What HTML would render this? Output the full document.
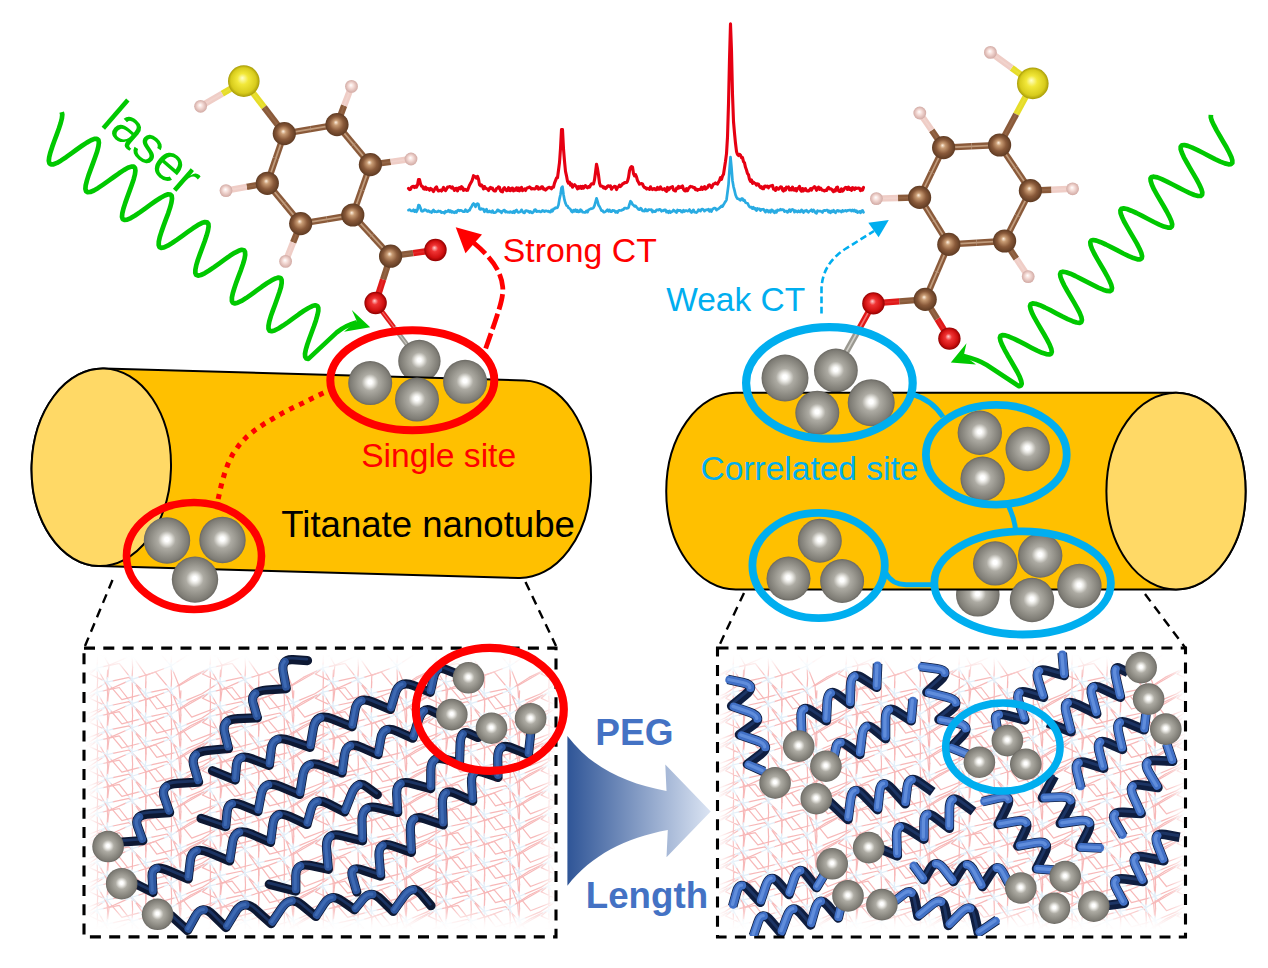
<!DOCTYPE html>
<html><head><meta charset="utf-8"><title>fig</title>
<style>html,body{margin:0;padding:0;background:#fff}svg{display:block}text{font-family:"Liberation Sans",sans-serif}</style>
</head><body>
<svg width="1268" height="968" viewBox="0 0 1268 968">
<defs>
<radialGradient id="gTi" cx="50%" cy="50%" r="50%" fx="49.5%" fy="47.5%">
<stop offset="0" stop-color="#fff"/><stop offset=".09" stop-color="#fff"/><stop offset=".2" stop-color="#e6e5e0"/>
<stop offset=".38" stop-color="#adaba3"/><stop offset=".7" stop-color="#908e86"/><stop offset=".9" stop-color="#7e7c75"/><stop offset="1" stop-color="#6a6862"/>
</radialGradient>
<radialGradient id="gC" cx="50%" cy="50%" r="50%" fx="45%" fy="40%">
<stop offset="0" stop-color="#fff1e0"/><stop offset=".22" stop-color="#c99c74"/><stop offset=".6" stop-color="#8a5a3a"/><stop offset="1" stop-color="#5e3a22"/>
</radialGradient>
<radialGradient id="gH" cx="50%" cy="50%" r="50%" fx="45%" fy="40%">
<stop offset="0" stop-color="#fff"/><stop offset=".4" stop-color="#f5dcd7"/><stop offset="1" stop-color="#d2aaa4"/>
</radialGradient>
<radialGradient id="gS" cx="50%" cy="50%" r="50%" fx="45%" fy="40%">
<stop offset="0" stop-color="#ffffc8"/><stop offset=".35" stop-color="#f2e83a"/><stop offset=".8" stop-color="#d8cc1c"/><stop offset="1" stop-color="#a89c08"/>
</radialGradient>
<radialGradient id="gO" cx="50%" cy="50%" r="50%" fx="45%" fy="40%">
<stop offset="0" stop-color="#ffd0d0"/><stop offset=".3" stop-color="#f03434"/><stop offset=".75" stop-color="#d01010"/><stop offset="1" stop-color="#900000"/>
</radialGradient>
<linearGradient id="gArrow" x1="0" y1="0" x2="1" y2="0">
<stop offset="0" stop-color="#2f5597"/><stop offset="1" stop-color="#dbe4f3"/>
</linearGradient>
</defs>
<rect width="1268" height="968" fill="#fff"/>
<path d="M61.7 112.1 L62.3 114.6 L61.9 118.2 L60.7 123 L58.9 128.5 L56.7 134.6 L54.4 140.8 L52.2 146.9 L50.4 152.4 L49.2 157.2 L48.8 160.8 L49.4 163.3 L50.9 164.4 L53.5 164.3 L57 162.9 L61.2 160.4 L66.1 157.2 L71.4 153.4 L76.7 149.5 L82 145.8 L86.8 142.6 L91 140.2 L94.4 138.9 L96.9 138.8 L98.4 140 L98.9 142.6 L98.4 146.4 L97.2 151.2 L95.3 156.8 L93.1 162.9 L90.8 169.1 L88.6 175.1 L86.9 180.6 L85.7 185.3 L85.4 188.9 L86.1 191.2 L87.7 192.2 L90.3 192 L93.9 190.5 L98.2 187.9 L103.1 184.6 L108.4 180.9 L113.8 177 L119 173.3 L123.8 170.1 L127.9 167.8 L131.3 166.6 L133.7 166.6 L135 168 L135.4 170.6 L134.9 174.5 L133.6 179.4 L131.7 185 L129.5 191.1 L127.2 197.4 L125.1 203.4 L123.4 208.8 L122.3 213.4 L122 216.9 L122.7 219.1 L124.5 220 L127.2 219.7 L130.8 218.1 L135.1 215.5 L140.1 212.1 L145.4 208.3 L150.8 204.4 L156 200.8 L160.7 197.7 L164.8 195.5 L168.1 194.3 L170.4 194.5 L171.7 195.9 L172 198.7 L171.4 202.6 L170.1 207.6 L168.2 213.3 L165.9 219.4 L163.6 225.6 L161.5 231.6 L159.8 237 L158.8 241.5 L158.7 244.9 L159.4 247 L161.2 247.8 L164 247.4 L167.7 245.7 L172.1 243 L177.1 239.6 L182.4 235.8 L187.8 231.9 L192.9 228.3 L197.7 225.2 L201.7 223.1 L204.9 222.1 L207.1 222.3 L208.4 223.9 L208.6 226.7 L207.9 230.8 L206.5 235.8 L204.6 241.5 L202.3 247.7 L200 253.9 L197.9 259.8 L196.3 265.1 L195.4 269.6 L195.3 272.9 L196.1 274.9 L198 275.6 L200.9 275 L204.6 273.3 L209.1 270.5 L214.1 267.1 L219.4 263.3 L224.8 259.4 L229.9 255.8 L234.6 252.8 L238.6 250.8 L241.7 249.8 L243.9 250.2 L245 251.8 L245.2 254.8 L244.5 258.9 L243 264 L241 269.8 L238.7 275.9 L236.4 282.1 L234.4 288 L232.8 293.3 L231.9 297.6 L231.9 300.9 L232.8 302.8 L234.8 303.4 L237.7 302.7 L241.5 300.9 L246.1 298.1 L251.1 294.6 L256.5 290.7 L261.8 286.8 L266.9 283.3 L271.5 280.4 L275.5 278.4 L278.5 277.6 L280.6 278 L281.6 279.8 L281.7 282.8 L281 287 L279.4 292.2 L277.4 298 L275.2 304.2 L272.9 310.4 L270.8 316.3 L269.3 321.5 L268.5 325.7 L268.5 328.8 L269.6 330.7 L271.6 331.2 L274.6 330.4 L278.5 328.5 L283 325.6 L288.1 322.1 L293.5 318.2 L298.8 314.3 L303.9 310.8 L308.5 308 L312.3 306.1 L315.3 305.3 L317.3 305.9 L318.3 307.8 L318.3 310.9 L317.4 315.2 L315.9 320.4 L313.9 326.3 L311.6 332.5 L309.3 338.7 L307.3 344.5 L305.8 349.6 L305 353.8 L305.2 356.8 L306.3 358.5 L308.4 358.9 L336.8 332.4 Q345 325.5 357 322.2" fill="none" stroke="#00c800" stroke-width="4.7" stroke-linecap="butt" stroke-linejoin="round"/>
<path d="M370.2 327.3 L351.8 310 L357 321.5 L352 325 L344 331.8 Z" fill="#00c800"/>
<path d="M1210.9 114.8 L1210.8 117.3 L1211.8 120.8 L1213.9 125.2 L1216.6 130.4 L1219.9 136 L1223.2 141.7 L1226.5 147.3 L1229.2 152.5 L1231.3 156.9 L1232.3 160.4 L1232.3 162.9 L1231 164.2 L1228.5 164.3 L1224.9 163.4 L1220.3 161.6 L1215 159.1 L1209.2 156.1 L1203.3 153 L1197.6 150.1 L1192.3 147.6 L1187.8 145.9 L1184.3 145 L1181.9 145.3 L1180.7 146.7 L1180.7 149.2 L1181.9 152.8 L1183.9 157.3 L1186.8 162.5 L1190 168.1 L1193.4 173.9 L1196.6 179.4 L1199.3 184.5 L1201.3 188.9 L1202.3 192.4 L1202.1 194.7 L1200.7 195.9 L1198.1 196 L1194.4 195 L1189.8 193.1 L1184.4 190.5 L1178.7 187.6 L1172.7 184.5 L1167 181.6 L1161.8 179.1 L1157.4 177.4 L1153.9 176.7 L1151.6 177 L1150.5 178.5 L1150.7 181.1 L1151.9 184.8 L1154 189.4 L1156.9 194.6 L1160.2 200.3 L1163.6 206 L1166.7 211.5 L1169.4 216.6 L1171.3 220.9 L1172.2 224.3 L1171.9 226.5 L1170.4 227.7 L1167.8 227.6 L1164 226.6 L1159.3 224.6 L1153.9 222 L1148.1 219 L1142.2 215.9 L1136.5 213 L1131.3 210.7 L1127 209 L1123.6 208.4 L1121.4 208.8 L1120.4 210.4 L1120.6 213.1 L1121.9 216.8 L1124.1 221.5 L1127 226.7 L1130.3 232.4 L1133.7 238.1 L1136.9 243.6 L1139.5 248.7 L1141.3 252.9 L1142.1 256.2 L1141.7 258.4 L1140.2 259.4 L1137.4 259.3 L1133.5 258.1 L1128.8 256.1 L1123.3 253.5 L1117.5 250.4 L1111.6 247.4 L1105.9 244.5 L1100.8 242.2 L1096.5 240.6 L1093.3 240 L1091.2 240.5 L1090.3 242.2 L1090.6 245 L1091.9 248.8 L1094.2 253.5 L1097.2 258.9 L1100.5 264.5 L1103.9 270.3 L1107 275.8 L1109.5 280.7 L1111.3 284.9 L1112 288.1 L1111.5 290.2 L1109.9 291.1 L1107 290.9 L1103.1 289.7 L1098.2 287.6 L1092.8 284.9 L1086.9 281.9 L1081 278.8 L1075.4 276 L1070.4 273.7 L1066.1 272.2 L1063 271.7 L1060.9 272.3 L1060.1 274.1 L1060.5 277 L1062 280.9 L1064.3 285.6 L1067.3 291 L1070.7 296.7 L1074 302.4 L1077.1 307.9 L1079.6 312.7 L1081.3 316.8 L1081.9 320 L1081.3 322 L1079.6 322.8 L1076.6 322.5 L1072.6 321.2 L1067.7 319.1 L1062.2 316.4 L1056.3 313.3 L1050.4 310.2 L1044.9 307.5 L1039.9 305.2 L1035.7 303.8 L1032.6 303.4 L1030.7 304.1 L1030 306 L1030.5 308.9 L1032 312.9 L1034.4 317.7 L1037.5 323.1 L1040.8 328.8 L1044.2 334.5 L1047.2 339.9 L1049.7 344.8 L1051.3 348.8 L1051.8 351.8 L1051.1 353.8 L1049.3 354.5 L1046.2 354.1 L1042.1 352.8 L1037.2 350.6 L1031.6 347.8 L1025.7 344.7 L1019.9 341.7 L1014.3 338.9 L1009.4 336.8 L1005.3 335.4 L1002.3 335.1 L1000.5 335.9 L999.9 337.8 L1000.5 340.9 L1002.1 344.9 L1004.6 349.8 L1007.6 355.2 L1011 361 L1014.3 366.7 L1017.3 372 L1019.7 376.8 L1021.2 380.8 L1021.7 383.7 L1020.9 385.5 L1019 386.2 L986.8 365 Q978 359.5 963.5 356" fill="none" stroke="#00c800" stroke-width="4.7" stroke-linecap="butt" stroke-linejoin="round"/>
<path d="M950.8 362.6 L966.5 343.2 L963.8 355.2 L968 358.5 L976 364.6 Z" fill="#00c800"/>
<text transform="translate(99,124.4) rotate(41)" font-size="51.5" fill="#00c800">laser</text>
<path d="M408.5 188.4 L409.5 189.6 L410.5 189.4 L411.5 187.2 L412.5 186.4 L413.5 186.2 L414.5 187.5 L415.5 186.2 L416.5 187.2 L417.5 185 L418.5 179.5 L419.5 179.6 L420.5 183.8 L421.5 186.2 L422.5 186.5 L423.5 188.7 L424.5 189.1 L425.5 187.1 L426.5 189.3 L427.5 188.4 L428.5 188.7 L429.5 190.3 L430.5 188.4 L431.5 189.1 L432.5 190.2 L433.5 191.6 L434.5 189.6 L435.5 187.8 L436.5 186.8 L437.5 189.7 L438.5 191 L439.5 190.6 L440.5 190 L441.5 191 L442.5 189.7 L443.5 187.4 L444.5 189.3 L445.5 190.7 L446.5 189.2 L447.5 187.1 L448.5 187.1 L449.5 186.6 L450.5 186.8 L451.5 188 L452.5 187 L453.5 188.7 L454.5 190.4 L455.5 188.5 L456.5 188.3 L457.5 190.9 L458.5 188.2 L459.5 187.6 L460.5 188.9 L461.5 186.7 L462.5 187.6 L463.5 190.4 L464.5 189.2 L465.5 189.5 L466.5 190.4 L467.5 190.3 L468.5 187.8 L469.5 185.2 L470.5 183.4 L471.5 181.8 L472.5 179.4 L473.5 175.7 L474.5 176.5 L475.5 177 L476.5 178.2 L477.5 176.3 L478.5 179.1 L479.5 184.7 L480.5 185.8 L481.5 185 L482.5 186.3 L483.5 189 L484.5 186.5 L485.5 188.1 L486.5 188.7 L487.5 188.9 L488.5 190.5 L489.5 188.3 L490.5 187.3 L491.5 188.6 L492.5 188.2 L493.5 190.2 L494.5 190.9 L495.5 191 L496.5 188.5 L497.5 188.3 L498.5 186.8 L499.5 187.4 L500.5 190.6 L501.5 191.5 L502.5 191.9 L503.5 188.7 L504.5 187.7 L505.5 189.3 L506.5 190.7 L507.5 190.3 L508.5 187.7 L509.5 190.5 L510.5 190.7 L511.5 188.2 L512.5 188.1 L513.5 190.9 L514.5 189.2 L515.5 190.2 L516.5 187.8 L517.5 190.5 L518.5 188 L519.5 190.9 L520.5 189 L521.5 187.4 L522.5 190.7 L523.5 189.7 L524.5 189 L525.5 190.5 L526.5 188.4 L527.5 187.7 L528.5 187.6 L529.5 186.9 L530.5 187.7 L531.5 189 L532.5 188.6 L533.5 188.8 L534.5 189 L535.5 188.6 L536.5 186.6 L537.5 186.7 L538.5 189.1 L539.5 188 L540.5 188.7 L541.5 186.9 L542.5 186.9 L543.5 189.1 L544.5 188.8 L545.5 190.1 L546.5 189.1 L547.5 188.2 L548.5 187.6 L549.5 187.3 L550.5 187.9 L551.5 188.8 L552.5 187 L553.5 187.1 L554.5 183.2 L555.5 180.7 L556.5 178.1 L557.5 177.8 L558.5 170.3 L559.5 162.5 L560.5 148.7 L561.5 129.6 L562.5 129.6 L563.5 148.8 L564.5 161.2 L565.5 171.4 L566.5 175.8 L567.5 181.2 L568.5 183.2 L569.5 182.2 L570.5 185.2 L571.5 184 L572.5 187.2 L573.5 185.4 L574.5 184.7 L575.5 185.7 L576.5 186.8 L577.5 188.9 L578.5 186.7 L579.5 188 L580.5 186.3 L581.5 188.4 L582.5 186.3 L583.5 188.2 L584.5 186.3 L585.5 185.6 L586.5 187 L587.5 187.8 L588.5 186.6 L589.5 187.2 L590.5 185.2 L591.5 183.8 L592.5 183.7 L593.5 184 L594.5 179.9 L595.5 172.5 L596.5 164.2 L597.5 168.7 L598.5 175 L599.5 183 L600.5 186.1 L601.5 186.3 L602.5 186.4 L603.5 187.9 L604.5 187.1 L605.5 188.6 L606.5 187.8 L607.5 186.1 L608.5 185.7 L609.5 186.4 L610.5 185.9 L611.5 189.2 L612.5 187.6 L613.5 187.1 L614.5 186.3 L615.5 186.5 L616.5 189.6 L617.5 187.3 L618.5 186.8 L619.5 185.1 L620.5 186.5 L621.5 185.5 L622.5 184 L623.5 183.5 L624.5 182.6 L625.5 182.6 L626.5 182.5 L627.5 181.2 L628.5 177.5 L629.5 170.7 L630.5 167.7 L631.5 166.5 L632.5 167.1 L633.5 173.6 L634.5 175.9 L635.5 174.6 L636.5 176.9 L637.5 180.6 L638.5 182.2 L639.5 184.2 L640.5 183.7 L641.5 183.6 L642.5 183.9 L643.5 186.3 L644.5 187.6 L645.5 187.5 L646.5 189 L647.5 188.3 L648.5 188.9 L649.5 189.4 L650.5 186.8 L651.5 188.9 L652.5 189.6 L653.5 188.8 L654.5 188.5 L655.5 189.7 L656.5 189.6 L657.5 187.4 L658.5 189.3 L659.5 189.2 L660.5 186.9 L661.5 188.9 L662.5 189.6 L663.5 189.1 L664.5 188.7 L665.5 190.5 L666.5 191.4 L667.5 187.4 L668.5 189.8 L669.5 188.8 L670.5 187.5 L671.5 187.1 L672.5 186.7 L673.5 190.1 L674.5 190.5 L675.5 191 L676.5 188.2 L677.5 188.5 L678.5 186.4 L679.5 187.8 L680.5 186.8 L681.5 187.3 L682.5 186 L683.5 189.3 L684.5 190.7 L685.5 190.9 L686.5 188.7 L687.5 190.7 L688.5 188.5 L689.5 187.4 L690.5 186.3 L691.5 186.8 L692.5 186.7 L693.5 187.8 L694.5 187.5 L695.5 189.6 L696.5 189.1 L697.5 190.3 L698.5 189.6 L699.5 189.4 L700.5 189.4 L701.5 187.2 L702.5 189.3 L703.5 187.9 L704.5 186.6 L705.5 189.1 L706.5 188.3 L707.5 187.5 L708.5 185.4 L709.5 184.8 L710.5 185.7 L711.5 187.6 L712.5 185.9 L713.5 184 L714.5 183.8 L715.5 182.9 L716.5 183.6 L717.5 184.1 L718.5 182.1 L719.5 180.5 L720.5 177.6 L721.5 179.4 L722.5 176.1 L723.5 174.3 L724.5 167.8 L725.5 161.3 L726.5 153.6 L727.5 137.1 L728.5 103.9 L729.5 59 L730.5 23.8 L731.5 50.8 L732.5 94.4 L733.5 121.5 L734.5 133.1 L735.5 143.3 L736.5 151.4 L737.5 154.5 L738.5 155.5 L739.5 154.3 L740.5 155.1 L741.5 157.8 L742.5 157.6 L743.5 161.7 L744.5 162.8 L745.5 167.3 L746.5 170 L747.5 173.6 L748.5 174.8 L749.5 179.3 L750.5 181.3 L751.5 179.9 L752.5 183.4 L753.5 182.2 L754.5 183.1 L755.5 183.5 L756.5 185.1 L757.5 183.9 L758.5 184.3 L759.5 186.2 L760.5 187.5 L761.5 186.7 L762.5 188.7 L763.5 188.8 L764.5 186.3 L765.5 186 L766.5 186.9 L767.5 186.1 L768.5 187.8 L769.5 186.2 L770.5 186 L771.5 185.7 L772.5 185.4 L773.5 189 L774.5 189.4 L775.5 190.4 L776.5 187.5 L777.5 189.1 L778.5 189.3 L779.5 188.1 L780.5 186.9 L781.5 187 L782.5 190.1 L783.5 191 L784.5 188.7 L785.5 190.1 L786.5 187.1 L787.5 187.6 L788.5 187 L789.5 190 L790.5 188.7 L791.5 189.9 L792.5 187.1 L793.5 190.1 L794.5 190.3 L795.5 188.6 L796.5 190.8 L797.5 188.4 L798.5 188 L799.5 186.4 L800.5 190 L801.5 191.2 L802.5 188.5 L803.5 190.8 L804.5 189 L805.5 188.7 L806.5 190.8 L807.5 190.9 L808.5 191 L809.5 190.1 L810.5 188.6 L811.5 190.2 L812.5 188.1 L813.5 187.7 L814.5 186.6 L815.5 187.6 L816.5 190.3 L817.5 188.4 L818.5 187.1 L819.5 189.4 L820.5 188.1 L821.5 189.3 L822.5 190.3 L823.5 190.2 L824.5 191 L825.5 190 L826.5 190.5 L827.5 188.4 L828.5 187.4 L829.5 189 L830.5 188.7 L831.5 189.1 L832.5 190.5 L833.5 191.7 L834.5 189.9 L835.5 190.9 L836.5 187.7 L837.5 187.1 L838.5 190.7 L839.5 191.5 L840.5 191.5 L841.5 188.9 L842.5 191.1 L843.5 190.2 L844.5 188.3 L845.5 187.4 L846.5 187.6 L847.5 189.4 L848.5 187.1 L849.5 189.4 L850.5 188.5 L851.5 190.3 L852.5 187.6 L853.5 188.3 L854.5 189.6 L855.5 187.9 L856.5 188.4 L857.5 188.2 L858.5 188.1 L859.5 188.3 L860.5 190.6 L861.5 189.1 L862.5 190.2 L863.5 187.4" fill="none" stroke="#e60012" stroke-width="3.1" stroke-linejoin="round" stroke-linecap="round"/>
<path d="M408.5 210.2 L409.5 209.6 L410.5 210.4 L411.5 211 L412.5 210.9 L413.5 209.8 L414.5 211.7 L415.5 210.2 L416.5 211.8 L417.5 209.6 L418.5 205.1 L419.5 205.5 L420.5 208 L421.5 211.1 L422.5 211.3 L423.5 210.8 L424.5 209.7 L425.5 209.8 L426.5 210.6 L427.5 211.4 L428.5 210.7 L429.5 211.8 L430.5 211.7 L431.5 212.6 L432.5 211 L433.5 210 L434.5 211.8 L435.5 211.4 L436.5 211.9 L437.5 211.7 L438.5 210.9 L439.5 211.5 L440.5 211.2 L441.5 212.7 L442.5 212.3 L443.5 212.3 L444.5 213.2 L445.5 211.2 L446.5 211.8 L447.5 211.3 L448.5 210.1 L449.5 211.8 L450.5 210.6 L451.5 212.3 L452.5 211.4 L453.5 212.5 L454.5 212.8 L455.5 211.5 L456.5 212.5 L457.5 210.5 L458.5 210.1 L459.5 210.8 L460.5 210.3 L461.5 210.6 L462.5 211.2 L463.5 211.7 L464.5 211.6 L465.5 209.7 L466.5 211.3 L467.5 211.7 L468.5 210.4 L469.5 210.4 L470.5 208.1 L471.5 206.8 L472.5 204.7 L473.5 203.5 L474.5 204.6 L475.5 206.8 L476.5 204.2 L477.5 203.6 L478.5 204.4 L479.5 209 L480.5 209.4 L481.5 208.7 L482.5 209.2 L483.5 209.2 L484.5 211.8 L485.5 210 L486.5 209.2 L487.5 212 L488.5 212 L489.5 211 L490.5 212 L491.5 212.3 L492.5 210.6 L493.5 212.6 L494.5 212.6 L495.5 212.4 L496.5 211.7 L497.5 209.9 L498.5 210.1 L499.5 211.5 L500.5 211.2 L501.5 212.8 L502.5 211.3 L503.5 210.4 L504.5 210.1 L505.5 212.2 L506.5 211.5 L507.5 212.3 L508.5 212.1 L509.5 212.4 L510.5 211.6 L511.5 212.3 L512.5 212.6 L513.5 211.3 L514.5 212.7 L515.5 210.7 L516.5 210 L517.5 211.9 L518.5 212.5 L519.5 212.1 L520.5 211.7 L521.5 209.8 L522.5 211.3 L523.5 212.7 L524.5 212.9 L525.5 210.8 L526.5 210.5 L527.5 211.3 L528.5 211 L529.5 212.5 L530.5 211.5 L531.5 212.6 L532.5 212.9 L533.5 211.8 L534.5 209.8 L535.5 209.7 L536.5 211.7 L537.5 211.2 L538.5 211.3 L539.5 211.2 L540.5 212 L541.5 211.5 L542.5 210.4 L543.5 210.8 L544.5 211.7 L545.5 210.9 L546.5 210.9 L547.5 211.4 L548.5 211 L549.5 212 L550.5 212.1 L551.5 210 L552.5 211.3 L553.5 208.9 L554.5 208.8 L555.5 207.7 L556.5 207.9 L557.5 207.6 L558.5 204.9 L559.5 198.9 L560.5 194.5 L561.5 187.9 L562.5 186.6 L563.5 194.4 L564.5 199.9 L565.5 203.3 L566.5 205.5 L567.5 205.9 L568.5 207.9 L569.5 208.4 L570.5 209.4 L571.5 211.4 L572.5 212.1 L573.5 210.2 L574.5 211.3 L575.5 209.6 L576.5 211.7 L577.5 210.3 L578.5 212 L579.5 211.8 L580.5 209.7 L581.5 210.3 L582.5 212.1 L583.5 212.2 L584.5 212.4 L585.5 212.4 L586.5 210.8 L587.5 212.1 L588.5 209.9 L589.5 209.4 L590.5 208.9 L591.5 208.6 L592.5 208.5 L593.5 207.7 L594.5 205.7 L595.5 202 L596.5 198.3 L597.5 201.1 L598.5 205.1 L599.5 206.5 L600.5 208.5 L601.5 210.7 L602.5 210.5 L603.5 212.1 L604.5 212.1 L605.5 211.6 L606.5 210.6 L607.5 209.6 L608.5 211.3 L609.5 209.9 L610.5 211.7 L611.5 211.7 L612.5 210.3 L613.5 210.6 L614.5 210.6 L615.5 212.3 L616.5 211.4 L617.5 212.5 L618.5 210.8 L619.5 210.3 L620.5 210.5 L621.5 210.5 L622.5 209.6 L623.5 209.6 L624.5 208.1 L625.5 208 L626.5 208.5 L627.5 208.3 L628.5 207.7 L629.5 204.2 L630.5 201.2 L631.5 202.2 L632.5 204.4 L633.5 205.2 L634.5 206.3 L635.5 205.8 L636.5 207.1 L637.5 208.2 L638.5 209.5 L639.5 209.7 L640.5 208.1 L641.5 208.9 L642.5 210.8 L643.5 210.9 L644.5 211.2 L645.5 209.2 L646.5 211 L647.5 211 L648.5 209.5 L649.5 209.7 L650.5 209.8 L651.5 209.7 L652.5 212.1 L653.5 211 L654.5 211.6 L655.5 211.6 L656.5 209.9 L657.5 209.9 L658.5 210.1 L659.5 209.3 L660.5 209.8 L661.5 211.3 L662.5 210.5 L663.5 210.8 L664.5 209.8 L665.5 209.8 L666.5 212.1 L667.5 211.3 L668.5 212.7 L669.5 210.9 L670.5 212.5 L671.5 211.8 L672.5 211.4 L673.5 210 L674.5 210.8 L675.5 211.7 L676.5 212.6 L677.5 210 L678.5 210.8 L679.5 210.4 L680.5 210.4 L681.5 212 L682.5 212.2 L683.5 210.2 L684.5 211.5 L685.5 210.5 L686.5 210.6 L687.5 211.2 L688.5 210.8 L689.5 209.5 L690.5 211.6 L691.5 212.6 L692.5 210.7 L693.5 209.9 L694.5 212.1 L695.5 212.3 L696.5 212.6 L697.5 211.6 L698.5 209.6 L699.5 210.3 L700.5 211.1 L701.5 209.4 L702.5 209.1 L703.5 209.7 L704.5 211.1 L705.5 210 L706.5 209.7 L707.5 209.9 L708.5 209.2 L709.5 211.3 L710.5 209.6 L711.5 211.5 L712.5 209.3 L713.5 208.4 L714.5 208 L715.5 208.3 L716.5 210.2 L717.5 209.1 L718.5 208.9 L719.5 207.9 L720.5 207.1 L721.5 205.9 L722.5 206.6 L723.5 204.7 L724.5 203.1 L725.5 201.6 L726.5 199.8 L727.5 192.3 L728.5 184.6 L729.5 169.6 L730.5 157.2 L731.5 167.7 L732.5 180.7 L733.5 186.6 L734.5 190.4 L735.5 194.8 L736.5 197.3 L737.5 198.7 L738.5 198.8 L739.5 199.6 L740.5 200.3 L741.5 198.7 L742.5 198.6 L743.5 200.7 L744.5 200.2 L745.5 202.6 L746.5 203 L747.5 203.2 L748.5 205.2 L749.5 206.9 L750.5 207.3 L751.5 207 L752.5 208.7 L753.5 207.3 L754.5 209.1 L755.5 208.5 L756.5 210.6 L757.5 208.5 L758.5 209.2 L759.5 208.8 L760.5 210.5 L761.5 209.4 L762.5 209.4 L763.5 209.2 L764.5 210.9 L765.5 212.1 L766.5 210 L767.5 210.2 L768.5 212 L769.5 210.8 L770.5 212.3 L771.5 209.8 L772.5 210.2 L773.5 211.9 L774.5 212.8 L775.5 210.9 L776.5 212.3 L777.5 209.9 L778.5 210.3 L779.5 210.2 L780.5 209.2 L781.5 210 L782.5 209.5 L783.5 209.7 L784.5 211.7 L785.5 211.1 L786.5 211 L787.5 212.4 L788.5 211.1 L789.5 209.6 L790.5 211.7 L791.5 209.8 L792.5 209.4 L793.5 209.9 L794.5 212.1 L795.5 210.7 L796.5 211.4 L797.5 212 L798.5 210.7 L799.5 211.9 L800.5 211.8 L801.5 209.9 L802.5 210.7 L803.5 212.5 L804.5 210.8 L805.5 211.1 L806.5 210.2 L807.5 211.7 L808.5 212.3 L809.5 211 L810.5 210.7 L811.5 209.8 L812.5 211.6 L813.5 210 L814.5 211.1 L815.5 212.8 L816.5 213.3 L817.5 210.6 L818.5 211.1 L819.5 211.1 L820.5 211 L821.5 211.8 L822.5 212.5 L823.5 210.5 L824.5 210.4 L825.5 210.6 L826.5 210.1 L827.5 210.1 L828.5 212.2 L829.5 211 L830.5 212.8 L831.5 210.9 L832.5 211.7 L833.5 210.2 L834.5 212 L835.5 212.8 L836.5 211.1 L837.5 210.3 L838.5 211.3 L839.5 210.9 L840.5 211 L841.5 212.1 L842.5 210.3 L843.5 211.4 L844.5 210.9 L845.5 210.3 L846.5 211.3 L847.5 210.4 L848.5 210.5 L849.5 210.1 L850.5 210 L851.5 211.1 L852.5 210 L853.5 211.1 L854.5 210 L855.5 211.6 L856.5 210.7 L857.5 212.6 L858.5 211.9 L859.5 211.3 L860.5 212.9 L861.5 210.9 L862.5 210.3 L863.5 212.3" fill="none" stroke="#29abe2" stroke-width="2.7" stroke-linejoin="round" stroke-linecap="round"/>
<line x1="375.6" y1="303" x2="394" y2="327.4" stroke="#e01818" stroke-width="4.6"/><line x1="375.6" y1="303" x2="394" y2="327.4" stroke="#ff9a9a" stroke-width="1.2" opacity="0.6"/><line x1="394" y1="327.4" x2="419.4" y2="361" stroke="#9a9890" stroke-width="4.6"/><line x1="394" y1="327.4" x2="419.4" y2="361" stroke="#e8e6e0" stroke-width="1.2" opacity="0.6"/>
<circle cx="419.4" cy="361" r="21.2" fill="url(#gTi)"/>
<line x1="873.4" y1="303.4" x2="859.9" y2="327.5" stroke="#e01818" stroke-width="6.3"/><line x1="873.4" y1="303.4" x2="859.9" y2="327.5" stroke="#ff9a9a" stroke-width="1.6" opacity="0.7"/><line x1="859.9" y1="327.5" x2="836" y2="370.3" stroke="#9a9890" stroke-width="6.3"/><line x1="859.9" y1="327.5" x2="836" y2="370.3" stroke="#e8e6e0" stroke-width="1.6" opacity="0.7"/>
<circle cx="835.9" cy="370.5" r="21.9" fill="url(#gTi)"/>
<circle cx="977.8" cy="594.8" r="21.8" fill="url(#gTi)"/>
<g transform="translate(311.3,473.2) rotate(1.63)"><path d="M-210.1 -98.8 L210.1 -98.8 A69.7 98.8 0 0 1 210.1 98.8 L-210.1 98.8 A69.7 98.8 0 0 1 -210.1 -98.8 Z" fill="#ffc000" stroke="#000" stroke-width="2"/><ellipse cx="-210.1" cy="0" rx="69.7" ry="98.8" fill="#ffd966" stroke="#000" stroke-width="2"/></g>
<path d="M735.8 392.79999999999995 L1176 392.79999999999995 A69.6 98.4 0 0 1 1176 589.6 L735.8 589.6 A69.6 98.4 0 0 1 735.8 392.79999999999995 Z" fill="#ffc000" stroke="#000" stroke-width="2"/><ellipse cx="1176" cy="491.2" rx="69.6" ry="98.4" fill="#ffd966" stroke="#000" stroke-width="2"/>
<line x1="243.8" y1="81.1" x2="222.2" y2="93.7" stroke="#e6dc28" stroke-width="6.4"/><line x1="243.8" y1="81.1" x2="222.2" y2="93.7" stroke="#ffff9a" stroke-width="1.7" opacity="0.12"/><line x1="222.2" y1="93.7" x2="200.6" y2="106.3" stroke="#efcdc6" stroke-width="6.4"/><line x1="222.2" y1="93.7" x2="200.6" y2="106.3" stroke="#ffffff" stroke-width="1.7" opacity="0.12"/>
<line x1="243.8" y1="81.1" x2="264.1" y2="107.3" stroke="#e6dc28" stroke-width="6.4"/><line x1="243.8" y1="81.1" x2="264.1" y2="107.3" stroke="#ffff9a" stroke-width="1.7" opacity="0.12"/><line x1="264.1" y1="107.3" x2="284.3" y2="133.6" stroke="#8a5a3a" stroke-width="6.4"/><line x1="264.1" y1="107.3" x2="284.3" y2="133.6" stroke="#d9b99a" stroke-width="1.7" opacity="0.12"/>
<line x1="284.3" y1="133.6" x2="310.6" y2="129.1" stroke="#8a5a3a" stroke-width="6.4"/><line x1="284.3" y1="133.6" x2="310.6" y2="129.1" stroke="#d9b99a" stroke-width="1.7" opacity="0.7"/><line x1="310.6" y1="129.1" x2="337" y2="124.6" stroke="#8a5a3a" stroke-width="6.4"/><line x1="310.6" y1="129.1" x2="337" y2="124.6" stroke="#d9b99a" stroke-width="1.7" opacity="0.7"/>
<line x1="337" y1="124.6" x2="353.7" y2="144.6" stroke="#8a5a3a" stroke-width="6.4"/><line x1="337" y1="124.6" x2="353.7" y2="144.6" stroke="#d9b99a" stroke-width="1.7" opacity="0.7"/><line x1="353.7" y1="144.6" x2="370.4" y2="164.6" stroke="#8a5a3a" stroke-width="6.4"/><line x1="353.7" y1="144.6" x2="370.4" y2="164.6" stroke="#d9b99a" stroke-width="1.7" opacity="0.7"/>
<line x1="370.4" y1="164.6" x2="361.6" y2="189.8" stroke="#8a5a3a" stroke-width="6.4"/><line x1="370.4" y1="164.6" x2="361.6" y2="189.8" stroke="#d9b99a" stroke-width="1.7" opacity="0.7"/><line x1="361.6" y1="189.8" x2="352.8" y2="215" stroke="#8a5a3a" stroke-width="6.4"/><line x1="361.6" y1="189.8" x2="352.8" y2="215" stroke="#d9b99a" stroke-width="1.7" opacity="0.7"/>
<line x1="352.8" y1="215" x2="326.8" y2="219.3" stroke="#8a5a3a" stroke-width="6.4"/><line x1="352.8" y1="215" x2="326.8" y2="219.3" stroke="#d9b99a" stroke-width="1.7" opacity="0.7"/><line x1="326.8" y1="219.3" x2="300.7" y2="223.6" stroke="#8a5a3a" stroke-width="6.4"/><line x1="326.8" y1="219.3" x2="300.7" y2="223.6" stroke="#d9b99a" stroke-width="1.7" opacity="0.7"/>
<line x1="300.7" y1="223.6" x2="284" y2="203.4" stroke="#8a5a3a" stroke-width="6.4"/><line x1="300.7" y1="223.6" x2="284" y2="203.4" stroke="#d9b99a" stroke-width="1.7" opacity="0.7"/><line x1="284" y1="203.4" x2="267.3" y2="183.3" stroke="#8a5a3a" stroke-width="6.4"/><line x1="284" y1="203.4" x2="267.3" y2="183.3" stroke="#d9b99a" stroke-width="1.7" opacity="0.7"/>
<line x1="267.3" y1="183.3" x2="275.8" y2="158.4" stroke="#8a5a3a" stroke-width="6.4"/><line x1="267.3" y1="183.3" x2="275.8" y2="158.4" stroke="#d9b99a" stroke-width="1.7" opacity="0.7"/><line x1="275.8" y1="158.4" x2="284.3" y2="133.6" stroke="#8a5a3a" stroke-width="6.4"/><line x1="275.8" y1="158.4" x2="284.3" y2="133.6" stroke="#d9b99a" stroke-width="1.7" opacity="0.7"/>
<line x1="337" y1="124.6" x2="344.2" y2="105.5" stroke="#8a5a3a" stroke-width="6.4"/><line x1="337" y1="124.6" x2="344.2" y2="105.5" stroke="#d9b99a" stroke-width="1.7" opacity="0.12"/><line x1="344.2" y1="105.5" x2="351.5" y2="86.4" stroke="#efcdc6" stroke-width="6.4"/><line x1="344.2" y1="105.5" x2="351.5" y2="86.4" stroke="#ffffff" stroke-width="1.7" opacity="0.12"/>
<line x1="370.4" y1="164.6" x2="390.7" y2="161.8" stroke="#8a5a3a" stroke-width="6.4"/><line x1="370.4" y1="164.6" x2="390.7" y2="161.8" stroke="#d9b99a" stroke-width="1.7" opacity="0.12"/><line x1="390.7" y1="161.8" x2="411" y2="159" stroke="#efcdc6" stroke-width="6.4"/><line x1="390.7" y1="161.8" x2="411" y2="159" stroke="#ffffff" stroke-width="1.7" opacity="0.12"/>
<line x1="267.3" y1="183.3" x2="246.7" y2="186.9" stroke="#8a5a3a" stroke-width="6.4"/><line x1="267.3" y1="183.3" x2="246.7" y2="186.9" stroke="#d9b99a" stroke-width="1.7" opacity="0.12"/><line x1="246.7" y1="186.9" x2="226" y2="190.6" stroke="#efcdc6" stroke-width="6.4"/><line x1="246.7" y1="186.9" x2="226" y2="190.6" stroke="#ffffff" stroke-width="1.7" opacity="0.12"/>
<line x1="300.7" y1="223.6" x2="293.1" y2="242.5" stroke="#8a5a3a" stroke-width="6.4"/><line x1="300.7" y1="223.6" x2="293.1" y2="242.5" stroke="#d9b99a" stroke-width="1.7" opacity="0.12"/><line x1="293.1" y1="242.5" x2="285.6" y2="261.4" stroke="#efcdc6" stroke-width="6.4"/><line x1="293.1" y1="242.5" x2="285.6" y2="261.4" stroke="#ffffff" stroke-width="1.7" opacity="0.12"/>
<line x1="352.8" y1="215" x2="371.7" y2="235.6" stroke="#8a5a3a" stroke-width="6.4"/><line x1="352.8" y1="215" x2="371.7" y2="235.6" stroke="#d9b99a" stroke-width="1.7" opacity="0.7"/><line x1="371.7" y1="235.6" x2="390.6" y2="256.2" stroke="#8a5a3a" stroke-width="6.4"/><line x1="371.7" y1="235.6" x2="390.6" y2="256.2" stroke="#d9b99a" stroke-width="1.7" opacity="0.7"/>
<line x1="390.6" y1="256.2" x2="413.1" y2="253.1" stroke="#8a5a3a" stroke-width="6.4"/><line x1="390.6" y1="256.2" x2="413.1" y2="253.1" stroke="#d9b99a" stroke-width="1.7" opacity="0.12"/><line x1="413.1" y1="253.1" x2="435.5" y2="250" stroke="#e01818" stroke-width="6.4"/><line x1="413.1" y1="253.1" x2="435.5" y2="250" stroke="#ff9a9a" stroke-width="1.7" opacity="0.12"/>
<line x1="390.6" y1="256.2" x2="383.1" y2="279.6" stroke="#8a5a3a" stroke-width="6.4"/><line x1="390.6" y1="256.2" x2="383.1" y2="279.6" stroke="#d9b99a" stroke-width="1.7" opacity="0.12"/><line x1="383.1" y1="279.6" x2="375.6" y2="303" stroke="#e01818" stroke-width="6.4"/><line x1="383.1" y1="279.6" x2="375.6" y2="303" stroke="#ff9a9a" stroke-width="1.7" opacity="0.12"/>
<circle cx="243.8" cy="81.1" r="15.8" fill="url(#gS)"/>
<circle cx="200.6" cy="106.3" r="6.4" fill="url(#gH)"/>
<circle cx="284.3" cy="133.6" r="11.6" fill="url(#gC)"/>
<circle cx="337" cy="124.6" r="11.6" fill="url(#gC)"/>
<circle cx="370.4" cy="164.6" r="11.6" fill="url(#gC)"/>
<circle cx="352.8" cy="215" r="11.6" fill="url(#gC)"/>
<circle cx="300.7" cy="223.6" r="11.6" fill="url(#gC)"/>
<circle cx="267.3" cy="183.3" r="11.6" fill="url(#gC)"/>
<circle cx="351.5" cy="86.4" r="6.4" fill="url(#gH)"/>
<circle cx="411" cy="159" r="6.4" fill="url(#gH)"/>
<circle cx="226" cy="190.6" r="6.4" fill="url(#gH)"/>
<circle cx="285.6" cy="261.4" r="6.4" fill="url(#gH)"/>
<circle cx="390.6" cy="256.2" r="11.6" fill="url(#gC)"/>
<circle cx="435.5" cy="250" r="11.2" fill="url(#gO)"/>
<circle cx="375.6" cy="303" r="11.2" fill="url(#gO)"/>
<line x1="1032.8" y1="83.4" x2="1011.6" y2="67.9" stroke="#e6dc28" stroke-width="6.4"/><line x1="1032.8" y1="83.4" x2="1011.6" y2="67.9" stroke="#ffff9a" stroke-width="1.7" opacity="0.12"/><line x1="1011.6" y1="67.9" x2="990.4" y2="52.4" stroke="#efcdc6" stroke-width="6.4"/><line x1="1011.6" y1="67.9" x2="990.4" y2="52.4" stroke="#ffffff" stroke-width="1.7" opacity="0.12"/>
<line x1="1032.8" y1="83.4" x2="1016.2" y2="114.2" stroke="#e6dc28" stroke-width="6.4"/><line x1="1032.8" y1="83.4" x2="1016.2" y2="114.2" stroke="#ffff9a" stroke-width="1.7" opacity="0.12"/><line x1="1016.2" y1="114.2" x2="999.6" y2="145" stroke="#8a5a3a" stroke-width="6.4"/><line x1="1016.2" y1="114.2" x2="999.6" y2="145" stroke="#d9b99a" stroke-width="1.7" opacity="0.12"/>
<line x1="999.6" y1="145" x2="971.6" y2="146.3" stroke="#8a5a3a" stroke-width="6.4"/><line x1="999.6" y1="145" x2="971.6" y2="146.3" stroke="#d9b99a" stroke-width="1.7" opacity="0.7"/><line x1="971.6" y1="146.3" x2="943.6" y2="147.6" stroke="#8a5a3a" stroke-width="6.4"/><line x1="971.6" y1="146.3" x2="943.6" y2="147.6" stroke="#d9b99a" stroke-width="1.7" opacity="0.7"/>
<line x1="943.6" y1="147.6" x2="931.6" y2="172.5" stroke="#8a5a3a" stroke-width="6.4"/><line x1="943.6" y1="147.6" x2="931.6" y2="172.5" stroke="#d9b99a" stroke-width="1.7" opacity="0.7"/><line x1="931.6" y1="172.5" x2="919.6" y2="197.4" stroke="#8a5a3a" stroke-width="6.4"/><line x1="931.6" y1="172.5" x2="919.6" y2="197.4" stroke="#d9b99a" stroke-width="1.7" opacity="0.7"/>
<line x1="919.6" y1="197.4" x2="934.2" y2="220.9" stroke="#8a5a3a" stroke-width="6.4"/><line x1="919.6" y1="197.4" x2="934.2" y2="220.9" stroke="#d9b99a" stroke-width="1.7" opacity="0.7"/><line x1="934.2" y1="220.9" x2="948.8" y2="244.4" stroke="#8a5a3a" stroke-width="6.4"/><line x1="934.2" y1="220.9" x2="948.8" y2="244.4" stroke="#d9b99a" stroke-width="1.7" opacity="0.7"/>
<line x1="948.8" y1="244.4" x2="976.7" y2="242.7" stroke="#8a5a3a" stroke-width="6.4"/><line x1="948.8" y1="244.4" x2="976.7" y2="242.7" stroke="#d9b99a" stroke-width="1.7" opacity="0.7"/><line x1="976.7" y1="242.7" x2="1004.6" y2="241" stroke="#8a5a3a" stroke-width="6.4"/><line x1="976.7" y1="242.7" x2="1004.6" y2="241" stroke="#d9b99a" stroke-width="1.7" opacity="0.7"/>
<line x1="1004.6" y1="241" x2="1017.5" y2="215.8" stroke="#8a5a3a" stroke-width="6.4"/><line x1="1004.6" y1="241" x2="1017.5" y2="215.8" stroke="#d9b99a" stroke-width="1.7" opacity="0.7"/><line x1="1017.5" y1="215.8" x2="1030.4" y2="190.6" stroke="#8a5a3a" stroke-width="6.4"/><line x1="1017.5" y1="215.8" x2="1030.4" y2="190.6" stroke="#d9b99a" stroke-width="1.7" opacity="0.7"/>
<line x1="1030.4" y1="190.6" x2="1015" y2="167.8" stroke="#8a5a3a" stroke-width="6.4"/><line x1="1030.4" y1="190.6" x2="1015" y2="167.8" stroke="#d9b99a" stroke-width="1.7" opacity="0.7"/><line x1="1015" y1="167.8" x2="999.6" y2="145" stroke="#8a5a3a" stroke-width="6.4"/><line x1="1015" y1="167.8" x2="999.6" y2="145" stroke="#d9b99a" stroke-width="1.7" opacity="0.7"/>
<line x1="943.6" y1="147.6" x2="931.7" y2="130.3" stroke="#8a5a3a" stroke-width="6.4"/><line x1="943.6" y1="147.6" x2="931.7" y2="130.3" stroke="#d9b99a" stroke-width="1.7" opacity="0.12"/><line x1="931.7" y1="130.3" x2="919.8" y2="113" stroke="#efcdc6" stroke-width="6.4"/><line x1="931.7" y1="130.3" x2="919.8" y2="113" stroke="#ffffff" stroke-width="1.7" opacity="0.12"/>
<line x1="919.6" y1="197.4" x2="898" y2="198" stroke="#8a5a3a" stroke-width="6.4"/><line x1="919.6" y1="197.4" x2="898" y2="198" stroke="#d9b99a" stroke-width="1.7" opacity="0.12"/><line x1="898" y1="198" x2="876.4" y2="198.6" stroke="#efcdc6" stroke-width="6.4"/><line x1="898" y1="198" x2="876.4" y2="198.6" stroke="#ffffff" stroke-width="1.7" opacity="0.12"/>
<line x1="1030.4" y1="190.6" x2="1051.5" y2="189.7" stroke="#8a5a3a" stroke-width="6.4"/><line x1="1030.4" y1="190.6" x2="1051.5" y2="189.7" stroke="#d9b99a" stroke-width="1.7" opacity="0.12"/><line x1="1051.5" y1="189.7" x2="1072.6" y2="188.8" stroke="#efcdc6" stroke-width="6.4"/><line x1="1051.5" y1="189.7" x2="1072.6" y2="188.8" stroke="#ffffff" stroke-width="1.7" opacity="0.12"/>
<line x1="1004.6" y1="241" x2="1016.4" y2="258.8" stroke="#8a5a3a" stroke-width="6.4"/><line x1="1004.6" y1="241" x2="1016.4" y2="258.8" stroke="#d9b99a" stroke-width="1.7" opacity="0.12"/><line x1="1016.4" y1="258.8" x2="1028.2" y2="276.6" stroke="#efcdc6" stroke-width="6.4"/><line x1="1016.4" y1="258.8" x2="1028.2" y2="276.6" stroke="#ffffff" stroke-width="1.7" opacity="0.12"/>
<line x1="948.8" y1="244.4" x2="937" y2="271.9" stroke="#8a5a3a" stroke-width="6.4"/><line x1="948.8" y1="244.4" x2="937" y2="271.9" stroke="#d9b99a" stroke-width="1.7" opacity="0.7"/><line x1="937" y1="271.9" x2="925.2" y2="299.4" stroke="#8a5a3a" stroke-width="6.4"/><line x1="937" y1="271.9" x2="925.2" y2="299.4" stroke="#d9b99a" stroke-width="1.7" opacity="0.7"/>
<line x1="925.2" y1="299.4" x2="937.3" y2="319" stroke="#8a5a3a" stroke-width="6.4"/><line x1="925.2" y1="299.4" x2="937.3" y2="319" stroke="#d9b99a" stroke-width="1.7" opacity="0.12"/><line x1="937.3" y1="319" x2="949.4" y2="338.6" stroke="#e01818" stroke-width="6.4"/><line x1="937.3" y1="319" x2="949.4" y2="338.6" stroke="#ff9a9a" stroke-width="1.7" opacity="0.12"/>
<line x1="925.2" y1="299.4" x2="899.3" y2="301.4" stroke="#8a5a3a" stroke-width="6.4"/><line x1="925.2" y1="299.4" x2="899.3" y2="301.4" stroke="#d9b99a" stroke-width="1.7" opacity="0.12"/><line x1="899.3" y1="301.4" x2="873.4" y2="303.4" stroke="#e01818" stroke-width="6.4"/><line x1="899.3" y1="301.4" x2="873.4" y2="303.4" stroke="#ff9a9a" stroke-width="1.7" opacity="0.12"/>
<circle cx="1032.8" cy="83.4" r="15.8" fill="url(#gS)"/>
<circle cx="990.4" cy="52.4" r="6.4" fill="url(#gH)"/>
<circle cx="999.6" cy="145" r="11.6" fill="url(#gC)"/>
<circle cx="943.6" cy="147.6" r="11.6" fill="url(#gC)"/>
<circle cx="919.6" cy="197.4" r="11.6" fill="url(#gC)"/>
<circle cx="948.8" cy="244.4" r="11.6" fill="url(#gC)"/>
<circle cx="1004.6" cy="241" r="11.6" fill="url(#gC)"/>
<circle cx="1030.4" cy="190.6" r="11.6" fill="url(#gC)"/>
<circle cx="919.8" cy="113" r="6.4" fill="url(#gH)"/>
<circle cx="876.4" cy="198.6" r="6.4" fill="url(#gH)"/>
<circle cx="1072.6" cy="188.8" r="6.4" fill="url(#gH)"/>
<circle cx="1028.2" cy="276.6" r="6.4" fill="url(#gH)"/>
<circle cx="925.2" cy="299.4" r="11.6" fill="url(#gC)"/>
<circle cx="873.4" cy="303.4" r="11.2" fill="url(#gO)"/>
<circle cx="949.4" cy="338.6" r="11.2" fill="url(#gO)"/>
<path d="M217.6 501.5 L218.8 496.2 L221.2 485.5 L224.2 474.7 L227.8 464.4 L232.6 454.3 L239 445.2 L246.4 437.1 L255.1 430 L264.2 423.8 L273.6 418.3 L283.3 412.6 L293.4 407.5 L303.5 402.8 L313.3 397.7 L323.3 393 L331 389.4" fill="none" stroke="#ff0000" stroke-width="5.1" stroke-dasharray="5.1 5.85" stroke-dashoffset="-2.5" stroke-linejoin="round"/>
<circle cx="370.2" cy="383.1" r="22" fill="url(#gTi)"/>
<circle cx="465.1" cy="381.8" r="22" fill="url(#gTi)"/>
<circle cx="417" cy="399.6" r="22" fill="url(#gTi)"/>
<circle cx="167" cy="540.5" r="23.2" fill="url(#gTi)"/>
<circle cx="222.5" cy="540" r="23.2" fill="url(#gTi)"/>
<circle cx="195" cy="579.6" r="23.2" fill="url(#gTi)"/>
<ellipse cx="412.3" cy="380.2" rx="82" ry="50" fill="none" stroke="#ff0000" stroke-width="8"/>
<ellipse cx="194" cy="556" rx="67.5" ry="53.5" fill="none" stroke="#ff0000" stroke-width="7.6"/>
<path d="M485.7 348.5 L494.7 322.8 C500 307 503.6 296 502.7 286.9 C501.2 271 491.5 257.5 472.5 241.8" fill="none" stroke="#ff0000" stroke-width="4.8" stroke-dasharray="16 4.5"/>
<path d="M455.7 227.3 L482 234.5 L465.5 253.3 Z" fill="#ff0000"/>
<path d="M821.5 313.4 L821.5 289 C822 271 831 258 846 248.5 L874 231" fill="none" stroke="#00aeef" stroke-width="2.6" stroke-dasharray="6.7 3.4"/>
<path d="M888.8 220 L868.3 222.8 L878.6 237.2 Z" fill="#00aeef"/>
<path d="M913 394.5 C925 398 936 406 943 417" fill="none" stroke="#00aeef" stroke-width="5"/>
<path d="M1008.5 506 C1012 513 1014.5 521 1015.5 529" fill="none" stroke="#00aeef" stroke-width="5"/>
<path d="M886 573 C890 581 897 584.5 906 584.7 L933 584.7" fill="none" stroke="#00aeef" stroke-width="5"/>
<circle cx="785" cy="378.1" r="23.5" fill="url(#gTi)"/>
<circle cx="871.2" cy="402.8" r="23.5" fill="url(#gTi)"/>
<circle cx="817.3" cy="412.8" r="22" fill="url(#gTi)"/>
<circle cx="979.8" cy="432.8" r="22.2" fill="url(#gTi)"/>
<circle cx="1027.7" cy="449" r="22.2" fill="url(#gTi)"/>
<circle cx="982.7" cy="478.7" r="22.2" fill="url(#gTi)"/>
<circle cx="819.8" cy="540.7" r="22" fill="url(#gTi)"/>
<circle cx="788.5" cy="578.6" r="22" fill="url(#gTi)"/>
<circle cx="842.1" cy="581" r="22" fill="url(#gTi)"/>
<circle cx="995.2" cy="563.4" r="22.2" fill="url(#gTi)"/>
<circle cx="1040.2" cy="555.6" r="22.2" fill="url(#gTi)"/>
<circle cx="1079.4" cy="586" r="22.2" fill="url(#gTi)"/>
<circle cx="1032" cy="600" r="22.2" fill="url(#gTi)"/>
<ellipse cx="829.4" cy="382.9" rx="83.3" ry="55.8" fill="none" stroke="#00aeef" stroke-width="8.2"/>
<ellipse cx="996.3" cy="454.7" rx="70.4" ry="49.9" fill="none" stroke="#00aeef" stroke-width="7.8"/>
<ellipse cx="818.6" cy="565.5" rx="66.2" ry="52.6" fill="none" stroke="#00aeef" stroke-width="7.8"/>
<ellipse cx="1022.6" cy="582.9" rx="88.3" ry="51.6" fill="none" stroke="#00aeef" stroke-width="7.8"/>
<text x="502.8" y="261.7" font-size="33.8" fill="#ff0000">Strong CT</text>
<text x="666.2" y="310.8" font-size="33.5" fill="#00aeef">Weak CT</text>
<text x="361.2" y="466.6" font-size="33.6" fill="#ff0000">Single site</text>
<text x="281.3" y="537.3" font-size="36.6" fill="#000">Titanate nanotube</text>
<text x="700.6" y="479.8" font-size="33.5" fill="#00aeef">Correlated site</text>
<path d="M112.5 580 L85 646 M525.5 582 L556 646 M744 593 L719 646 M1145 594 L1185.5 648" fill="none" stroke="#000" stroke-width="2.4" stroke-dasharray="9.2 6.4"/>
<defs><g id="mot" fill="none" stroke-width="1.2" stroke-linecap="round"><path d="M6 -1.3L22.2 -4.7M31.5 7.1L22.2 -4.7M41.3 9.4L58.5 4M69.8 17.3L58.5 4M79.2 18.7L93.4 9.4M107.6 2.5L93.4 9.4M15.9 37L32 33.6M44 45.4L32 33.6M54.2 48.4L70 45M79.7 55.3L70 45M89.2 56.6L105 50M118.1 41.5L105 50M3.3 5.8L12.1 21.5M28.8 14.1L12.1 21.5M10.6 33.8L12.1 21.5M38.8 16.9L49 31.6M67.2 24.7L49 31.6M48.6 44.8L49 31.6M76.2 27.5L82 42M104.6 29L82 42M82.9 54.5L82 42M-2 1.6L-7.4 6M5.3 11.9L-7.4 6M14 43L24.9 55.8M42.1 51.3L24.9 55.8M51.5 53.9L59.8 65.2M77 60.7L59.8 65.2M86.4 62.9L94.8 73.3M115.3 65.4L94.8 73.3M0.2 3.3L0.6 12.1M0.2 -3.3L0.6 -12.1M35.2 14.7L35.6 23.5M35.2 8.1L35.6 -0.7M74.2 25.5L74.6 34.3M74.2 18.9L74.6 10.1M10.2 41.6L10.6 50.4M10.2 35L10.6 26.2M48.6 53L49 61.8M48.6 46.4L49 37.6M83.5 62.4L83.9 71.2M83.5 55.8L83.9 47" stroke="#ec5a5a"/><path d="M0 0L6 -1.3M35 11.4L31.5 7.1M35 11.4L41.3 9.4M74 22.2L69.8 17.3M74 22.2L79.2 18.7M112.9 0L107.6 2.5M10 38.3L15.9 37M48.4 49.7L44 45.4M48.4 49.7L54.2 48.4M83.3 59.1L79.7 55.3M83.3 59.1L89.2 56.6M122.9 38.3L118.1 41.5M0 0L3.3 5.8M35 11.4L28.8 14.1M10 38.3L10.6 33.8M35 11.4L38.8 16.9M74 22.2L67.2 24.7M48.4 49.7L48.6 44.8M74 22.2L76.2 27.5M112.9 24.2L104.6 29M83.3 59.1L82.9 54.5M0 0L-2 1.6M10 14.1L5.3 11.9M10 38.3L14 43M48.4 49.7L42.1 51.3M48.4 49.7L51.5 53.9M83.3 59.1L77 60.7M83.3 59.1L86.4 62.9M122.9 62.5L115.3 65.4M0 0L0.2 3.3M0 0L0.2 -3.3M35 11.4L35.2 14.7M35 11.4L35.2 8.1M74 22.2L74.2 25.5M74 22.2L74.2 18.9M10 38.3L10.2 41.6M10 38.3L10.2 35M48.4 49.7L48.6 53M48.4 49.7L48.6 46.4M83.3 59.1L83.5 62.4M83.3 59.1L83.5 55.8" stroke="#bcd9f0"/></g><g id="lrow"><use href="#mot" x="-112.9"/><use href="#mot" x="0"/><use href="#mot" x="112.9"/><use href="#mot" x="225.8"/><use href="#mot" x="338.7"/><use href="#mot" x="451.6"/></g><g id="lat"><use href="#lrow" y="-24.2"/><use href="#lrow" y="0"/><use href="#lrow" y="24.2"/><use href="#lrow" y="48.4"/><use href="#lrow" y="72.6"/><use href="#lrow" y="96.8"/><use href="#lrow" y="121"/><use href="#lrow" y="145.2"/><use href="#lrow" y="169.4"/><use href="#lrow" y="193.6"/><use href="#lrow" y="217.8"/><use href="#lrow" y="242"/><use href="#lrow" y="266.2"/><use href="#lrow" y="290.4"/></g><filter id="blr" x="-5%" y="-5%" width="110%" height="110%"><feGaussianBlur stdDeviation="7"/></filter><filter id="soft" x="-2%" y="-2%" width="104%" height="104%"><feGaussianBlur stdDeviation="0.4"/></filter><mask id="mL"><rect x="98" y="668" width="448" height="248" fill="#fff" filter="url(#blr)"/></mask><mask id="mR"><rect x="728" y="668" width="448" height="248" fill="#fff" filter="url(#blr)"/></mask><clipPath id="cL"><rect x="86" y="650" width="469" height="286"/></clipPath><clipPath id="cR"><rect x="719" y="650" width="466" height="286"/></clipPath></defs><g clip-path="url(#cL)"><g mask="url(#mL)"><g filter="url(#soft)" opacity=".43"><use href="#lat" x="97" y="668"/></g></g></g><g clip-path="url(#cR)"><g mask="url(#mR)"><g filter="url(#soft)" opacity=".43"><use href="#lat" x="733" y="668"/></g></g></g><rect x="84" y="648.1" width="472" height="288.8" fill="none" stroke="#000" stroke-width="3.1" stroke-dasharray="11 8.3"/><rect x="717.5" y="648" width="468" height="289" fill="none" stroke="#000" stroke-width="3.1" stroke-dasharray="11 8.3"/><g clip-path="url(#cL)"><path d="M122 842 L142.8 840.6 L137.7 826.7 Q133.3 814.8 150 813.8 L169.6 812.6 L164.4 797.4 Q159.9 784.4 177.7 783.4 L198.6 782.2 L193.9 766 Q190 752.2 207.7 750.5 L228.5 748.5 L224.6 732.7 Q221.3 719.2 237.9 718.6 L257.4 717.8 L253.2 703.5 Q249.7 691.3 266.5 690 L286.3 688.6 L283.3 672.5 Q280.7 658.8 293 659.6 L307.5 660.6" fill="none" stroke="#0d1833" stroke-width="9.2" stroke-linecap="round" stroke-linejoin="round"/><path d="M122 842 L142.8 840.6 L137.7 826.7 Q133.3 814.8 150 813.8 L169.6 812.6 L164.4 797.4 Q159.9 784.4 177.7 783.4 L198.6 782.2 L193.9 766 Q190 752.2 207.7 750.5 L228.5 748.5 L224.6 732.7 Q221.3 719.2 237.9 718.6 L257.4 717.8 L253.2 703.5 Q249.7 691.3 266.5 690 L286.3 688.6 L283.3 672.5 Q280.7 658.8 293 659.6 L307.5 660.6" fill="none" stroke="#1b3362" stroke-width="2.8" stroke-linecap="round" stroke-linejoin="round" transform="translate(-0.7,-1.4)"/><path d="M142.2 839.1 L137.7 826.7 Q135.3 820.1 139.3 816.9M169 810.9 L164.4 797.4 Q161.9 790.2 166.2 786.7M198.1 780.4 L193.9 766 Q191.8 758.4 196.1 754.5M228.1 746.7 L224.6 732.7 Q222.8 725.3 227 721.7M256.9 716.2 L253.2 703.5 Q251.3 696.7 255.5 693.4M286 686.8 L283.3 672.5 Q281.8 664.9 284.9 661.8" fill="none" stroke="#2c549c" stroke-width="7.7" stroke-linecap="round" stroke-linejoin="round"/><path d="M142.2 839.1 L137.7 826.7 Q135.3 820.1 139.3 816.9M169 810.9 L164.4 797.4 Q161.9 790.2 166.2 786.7M198.1 780.4 L193.9 766 Q191.8 758.4 196.1 754.5M228.1 746.7 L224.6 732.7 Q222.8 725.3 227 721.7M256.9 716.2 L253.2 703.5 Q251.3 696.7 255.5 693.4M286 686.8 L283.3 672.5 Q281.8 664.9 284.9 661.8" fill="none" stroke="#4572bc" stroke-width="3.1" stroke-linecap="round" stroke-linejoin="round" opacity=".7" transform="translate(-0.6,-0.3)"/><path d="M212.5 770.7 L235.2 780.1 L236.4 765.6 Q237.5 753.3 252.1 758.9 L269.3 765.4 L271.3 748.8 Q273 734.6 290 740.5 L310 747.4 L313.3 728.4 Q316.1 712.3 332.6 719 L352 726.8 L355.1 710 Q357.7 695.6 372.7 702 L390.4 709.4 L395.2 693.5 Q399.3 679.9 413.5 685.6 L430.2 692.3 L433.4 677.9 Q436.1 665.6 445.2 669.3 L456 673.6" fill="none" stroke="#0d1833" stroke-width="9.2" stroke-linecap="round" stroke-linejoin="round"/><path d="M212.5 770.7 L235.2 780.1 L236.4 765.6 Q237.5 753.3 252.1 758.9 L269.3 765.4 L271.3 748.8 Q273 734.6 290 740.5 L310 747.4 L313.3 728.4 Q316.1 712.3 332.6 719 L352 726.8 L355.1 710 Q357.7 695.6 372.7 702 L390.4 709.4 L395.2 693.5 Q399.3 679.9 413.5 685.6 L430.2 692.3 L433.4 677.9 Q436.1 665.6 445.2 669.3 L456 673.6" fill="none" stroke="#1b3362" stroke-width="2.8" stroke-linecap="round" stroke-linejoin="round" transform="translate(-0.7,-1.4)"/><path d="M235.3 778.5 L236.4 765.6 Q237 758.9 241.7 757.5M269.5 763.6 L271.3 748.8 Q272.2 741 277.8 739.2M310.4 745.3 L313.3 728.4 Q314.8 719.6 320.5 717.6M352.3 724.9 L355.1 710 Q356.5 702.1 361.7 700.5M390.9 707.6 L395.2 693.5 Q397.4 686 402.7 684.4M430.6 690.7 L433.4 677.9 Q434.9 671.1 438.3 669.2" fill="none" stroke="#2c549c" stroke-width="7.7" stroke-linecap="round" stroke-linejoin="round"/><path d="M235.3 778.5 L236.4 765.6 Q237 758.9 241.7 757.5M269.5 763.6 L271.3 748.8 Q272.2 741 277.8 739.2M310.4 745.3 L313.3 728.4 Q314.8 719.6 320.5 717.6M352.3 724.9 L355.1 710 Q356.5 702.1 361.7 700.5M390.9 707.6 L395.2 693.5 Q397.4 686 402.7 684.4M430.6 690.7 L433.4 677.9 Q434.9 671.1 438.3 669.2" fill="none" stroke="#4572bc" stroke-width="3.1" stroke-linecap="round" stroke-linejoin="round" opacity=".7" transform="translate(-0.6,-0.3)"/><path d="M201.1 818.4 L225.7 826.7 L227.1 812 Q228.3 799.5 241.9 805.1 L257.9 811.6 L261.2 794.4 Q264 779.7 280.4 786.5 L299.6 794.5 L302.8 775.5 Q305.5 759.4 322.3 765.7 L342 773 L344.4 755.5 Q346.4 740.7 360.9 747.1 L378 754.6 L380.8 738.7 Q383.2 725.1 396.8 731.1 L412.8 738.2 L418.1 721.2 Q422.6 706.6 430.6 710.4 L440 714.8" fill="none" stroke="#0d1833" stroke-width="9.2" stroke-linecap="round" stroke-linejoin="round"/><path d="M201.1 818.4 L225.7 826.7 L227.1 812 Q228.3 799.5 241.9 805.1 L257.9 811.6 L261.2 794.4 Q264 779.7 280.4 786.5 L299.6 794.5 L302.8 775.5 Q305.5 759.4 322.3 765.7 L342 773 L344.4 755.5 Q346.4 740.7 360.9 747.1 L378 754.6 L380.8 738.7 Q383.2 725.1 396.8 731.1 L412.8 738.2 L418.1 721.2 Q422.6 706.6 430.6 710.4 L440 714.8" fill="none" stroke="#1b3362" stroke-width="2.8" stroke-linecap="round" stroke-linejoin="round" transform="translate(-0.7,-1.4)"/><path d="M225.9 825.1 L227.1 812 Q227.8 805.1 232.2 803.7M258.3 809.7 L261.2 794.4 Q262.7 786.3 268.4 784.8M300 792.4 L302.8 775.5 Q304.3 766.7 310 764.6M342.3 771.1 L344.4 755.5 Q345.5 747.4 350.4 745.6M378.3 752.8 L380.8 738.7 Q382.1 731.2 386.8 729.7M413.4 736.3 L418.1 721.2 Q420.6 713.2 424.1 710.7" fill="none" stroke="#2c549c" stroke-width="7.7" stroke-linecap="round" stroke-linejoin="round"/><path d="M225.9 825.1 L227.1 812 Q227.8 805.1 232.2 803.7M258.3 809.7 L261.2 794.4 Q262.7 786.3 268.4 784.8M300 792.4 L302.8 775.5 Q304.3 766.7 310 764.6M342.3 771.1 L344.4 755.5 Q345.5 747.4 350.4 745.6M378.3 752.8 L380.8 738.7 Q382.1 731.2 386.8 729.7M413.4 736.3 L418.1 721.2 Q420.6 713.2 424.1 710.7" fill="none" stroke="#4572bc" stroke-width="3.1" stroke-linecap="round" stroke-linejoin="round" opacity=".7" transform="translate(-0.6,-0.3)"/><path d="M135 883.5 L153 892.5 L152.1 876.8 Q151.4 863.5 168.3 870.6 L188.2 879 L190.3 860.8 Q192.1 845.3 209.4 852.5 L229.6 861 L232.5 842.5 Q234.9 826.8 251.3 834 L270.5 842.4 L272.8 824.6 Q274.8 809.5 289.6 816.4 L307 824.5 L311 809.4 Q314.4 796.5 328.2 803.6 L344.5 812 L351.3 794.6 Q357.1 779.8 366.4 786.6 L377.3 794.6" fill="none" stroke="#0d1833" stroke-width="9.2" stroke-linecap="round" stroke-linejoin="round"/><path d="M135 883.5 L153 892.5 L152.1 876.8 Q151.4 863.5 168.3 870.6 L188.2 879 L190.3 860.8 Q192.1 845.3 209.4 852.5 L229.6 861 L232.5 842.5 Q234.9 826.8 251.3 834 L270.5 842.4 L272.8 824.6 Q274.8 809.5 289.6 816.4 L307 824.5 L311 809.4 Q314.4 796.5 328.2 803.6 L344.5 812 L351.3 794.6 Q357.1 779.8 366.4 786.6 L377.3 794.6" fill="none" stroke="#1b3362" stroke-width="2.8" stroke-linecap="round" stroke-linejoin="round" transform="translate(-0.7,-1.4)"/><path d="M152.9 890.8 L152.1 876.8 Q151.7 869.5 156.7 868.3M188.4 877 L190.3 860.8 Q191.3 852.3 197 850.6M229.9 858.9 L232.5 842.5 Q233.8 833.9 239.4 832.1M270.8 840.4 L272.8 824.6 Q273.9 816.3 278.9 814.6M307.4 822.8 L311 809.4 Q312.9 802.3 317.9 801.3M345.3 810.1 L351.3 794.6 Q354.5 786.5 358.8 784.9" fill="none" stroke="#2c549c" stroke-width="7.7" stroke-linecap="round" stroke-linejoin="round"/><path d="M152.9 890.8 L152.1 876.8 Q151.7 869.5 156.7 868.3M188.4 877 L190.3 860.8 Q191.3 852.3 197 850.6M229.9 858.9 L232.5 842.5 Q233.8 833.9 239.4 832.1M270.8 840.4 L272.8 824.6 Q273.9 816.3 278.9 814.6M307.4 822.8 L311 809.4 Q312.9 802.3 317.9 801.3M345.3 810.1 L351.3 794.6 Q354.5 786.5 358.8 784.9" fill="none" stroke="#4572bc" stroke-width="3.1" stroke-linecap="round" stroke-linejoin="round" opacity=".7" transform="translate(-0.6,-0.3)"/><path d="M269.3 884.2 L295.8 891.1 L295.8 875.6 Q295.9 862.4 310.8 865.6 L328.4 869.3 L326.6 848.8 Q325.1 831.3 342.3 835.7 L362.5 840.9 L362 820.9 Q361.7 803.8 378.2 807.8 L397.7 812.5 L396.7 794.5 Q395.8 779.2 411.8 783.5 L430.7 788.6 L430.8 770.7 Q430.8 755.5 444 759 L459.5 763 L460.1 745.1 Q460.6 729.8 468.6 733.3 L478 737.5" fill="none" stroke="#0d1833" stroke-width="9.2" stroke-linecap="round" stroke-linejoin="round"/><path d="M269.3 884.2 L295.8 891.1 L295.8 875.6 Q295.9 862.4 310.8 865.6 L328.4 869.3 L326.6 848.8 Q325.1 831.3 342.3 835.7 L362.5 840.9 L362 820.9 Q361.7 803.8 378.2 807.8 L397.7 812.5 L396.7 794.5 Q395.8 779.2 411.8 783.5 L430.7 788.6 L430.8 770.7 Q430.8 755.5 444 759 L459.5 763 L460.1 745.1 Q460.6 729.8 468.6 733.3 L478 737.5" fill="none" stroke="#1b3362" stroke-width="2.8" stroke-linecap="round" stroke-linejoin="round" transform="translate(-0.7,-1.4)"/><path d="M295.8 889.4 L295.8 875.6 Q295.9 868.3 300.4 866M328.2 867 L326.6 848.8 Q325.8 839.2 330.6 836.2M362.4 838.7 L362 820.9 Q361.8 811.5 366.8 808.5M397.6 810.5 L396.7 794.5 Q396.2 786.1 400.8 783.6M430.7 786.6 L430.8 770.7 Q430.8 762.4 434.8 759.7M459.6 761 L460.1 745.1 Q460.4 736.7 462.9 734" fill="none" stroke="#2c549c" stroke-width="7.7" stroke-linecap="round" stroke-linejoin="round"/><path d="M295.8 889.4 L295.8 875.6 Q295.9 868.3 300.4 866M328.2 867 L326.6 848.8 Q325.8 839.2 330.6 836.2M362.4 838.7 L362 820.9 Q361.8 811.5 366.8 808.5M397.6 810.5 L396.7 794.5 Q396.2 786.1 400.8 783.6M430.7 786.6 L430.8 770.7 Q430.8 762.4 434.8 759.7M459.6 761 L460.1 745.1 Q460.4 736.7 462.9 734" fill="none" stroke="#4572bc" stroke-width="3.1" stroke-linecap="round" stroke-linejoin="round" opacity=".7" transform="translate(-0.6,-0.3)"/><path d="M356.8 892 L352.6 877.6 Q349.1 865.3 363.6 870.3 L380.7 876.1 L379.1 856.9 Q377.8 840.6 393.3 846 L411.4 852.3 L410.4 831.4 Q409.5 813.5 425 818.8 L443.2 825 L442.4 804.6 Q441.8 787.3 456 793.6 L472.7 801.1 L471.6 783.3 Q470.6 768.2 483.2 772.4 L498 777.3 L497.7 758.4 Q497.5 742.3 511.7 747.9 L528.4 754.5 L530.7 733" fill="none" stroke="#0d1833" stroke-width="9.2" stroke-linecap="round" stroke-linejoin="round"/><path d="M356.8 892 L352.6 877.6 Q349.1 865.3 363.6 870.3 L380.7 876.1 L379.1 856.9 Q377.8 840.6 393.3 846 L411.4 852.3 L410.4 831.4 Q409.5 813.5 425 818.8 L443.2 825 L442.4 804.6 Q441.8 787.3 456 793.6 L472.7 801.1 L471.6 783.3 Q470.6 768.2 483.2 772.4 L498 777.3 L497.7 758.4 Q497.5 742.3 511.7 747.9 L528.4 754.5 L530.7 733" fill="none" stroke="#1b3362" stroke-width="2.8" stroke-linecap="round" stroke-linejoin="round" transform="translate(-0.7,-1.4)"/><path d="M356.3 890.4 L352.6 877.6 Q350.7 870.8 354.2 869.3M380.5 874 L379.1 856.9 Q378.4 847.9 382.7 845.5M411.3 850 L410.4 831.4 Q409.9 821.5 414.4 818.7M443.1 822.7 L442.4 804.6 Q442.1 795.1 446.2 792.7M472.6 799.1 L471.6 783.3 Q471 775 474.6 772.5M498 775.2 L497.7 758.4 Q497.6 749.5 501.8 747.2M528.5 753.2 L530.5 734.7" fill="none" stroke="#2c549c" stroke-width="7.7" stroke-linecap="round" stroke-linejoin="round"/><path d="M356.3 890.4 L352.6 877.6 Q350.7 870.8 354.2 869.3M380.5 874 L379.1 856.9 Q378.4 847.9 382.7 845.5M411.3 850 L410.4 831.4 Q409.9 821.5 414.4 818.7M443.1 822.7 L442.4 804.6 Q442.1 795.1 446.2 792.7M472.6 799.1 L471.6 783.3 Q471 775 474.6 772.5M498 775.2 L497.7 758.4 Q497.6 749.5 501.8 747.2M528.5 753.2 L530.5 734.7" fill="none" stroke="#4572bc" stroke-width="3.1" stroke-linecap="round" stroke-linejoin="round" opacity=".7" transform="translate(-0.6,-0.3)"/><path d="M171 915.5 L187.5 930.5 L195.4 916.2 Q202.2 904 213.1 914.9 L225.9 927.6 L235.4 912 Q243.4 898.7 256.2 910.2 L271.2 923.6 L281.5 908.3 Q290.3 895.3 302 905.1 L315.8 916.5 L323.9 903.9 Q330.8 893.1 341.7 900.7 L354.5 909.6 L363.4 898.7 Q370.9 889.5 381.2 899.6 L393.2 911.4 L403.7 896.7 Q412.6 884.2 421.1 894.1 L431 905.7" fill="none" stroke="#0d1833" stroke-width="9.2" stroke-linecap="round" stroke-linejoin="round"/><path d="M171 915.5 L187.5 930.5 L195.4 916.2 Q202.2 904 213.1 914.9 L225.9 927.6 L235.4 912 Q243.4 898.7 256.2 910.2 L271.2 923.6 L281.5 908.3 Q290.3 895.3 302 905.1 L315.8 916.5 L323.9 903.9 Q330.8 893.1 341.7 900.7 L354.5 909.6 L363.4 898.7 Q370.9 889.5 381.2 899.6 L393.2 911.4 L403.7 896.7 Q412.6 884.2 421.1 894.1 L431 905.7" fill="none" stroke="#1b3362" stroke-width="2.8" stroke-linecap="round" stroke-linejoin="round" transform="translate(-0.7,-1.4)"/><path d="M188.4 928.9 L195.4 916.2 Q199.1 909.5 204.1 909.8M227 925.9 L235.4 912 Q239.8 904.7 245.7 904.9M272.3 921.9 L281.5 908.3 Q286.3 901.2 292 900.9M316.7 915.1 L323.9 903.9 Q327.7 898 332.7 897.6M355.5 908.4 L363.4 898.7 Q367.5 893.6 372.5 894.4M394.4 909.8 L403.7 896.7 Q408.6 889.8 413.4 889.7" fill="none" stroke="#2c549c" stroke-width="7.7" stroke-linecap="round" stroke-linejoin="round"/><path d="M188.4 928.9 L195.4 916.2 Q199.1 909.5 204.1 909.8M227 925.9 L235.4 912 Q239.8 904.7 245.7 904.9M272.3 921.9 L281.5 908.3 Q286.3 901.2 292 900.9M316.7 915.1 L323.9 903.9 Q327.7 898 332.7 897.6M355.5 908.4 L363.4 898.7 Q367.5 893.6 372.5 894.4M394.4 909.8 L403.7 896.7 Q408.6 889.8 413.4 889.7" fill="none" stroke="#4572bc" stroke-width="3.1" stroke-linecap="round" stroke-linejoin="round" opacity=".7" transform="translate(-0.6,-0.3)"/></g><circle cx="108.1" cy="846.5" r="15.8" fill="url(#gTi)"/><circle cx="121.7" cy="883.7" r="15.8" fill="url(#gTi)"/><circle cx="157.6" cy="914.3" r="15.8" fill="url(#gTi)"/><circle cx="468.5" cy="677.8" r="15.8" fill="url(#gTi)"/><circle cx="451.8" cy="714.6" r="15.8" fill="url(#gTi)"/><circle cx="491.5" cy="728.2" r="15.8" fill="url(#gTi)"/><circle cx="530.6" cy="718.7" r="15.8" fill="url(#gTi)"/><ellipse cx="489.8" cy="709.3" rx="74" ry="61.5" fill="none" stroke="#ff0000" stroke-width="8.2"/><g clip-path="url(#cR)"><path d="M727.7 679.4 L743.3 682.8 Q756.6 685.7 745.1 695 L731.7 706 L749 712 Q763.8 717.2 752.7 725.2 L739.6 734.6 L756.9 740.6 Q771.7 745.6 760.6 754.2 L747.5 764.2 L764 771.5" fill="none" stroke="#0f1e40" stroke-width="9.6" stroke-linecap="butt" stroke-linejoin="round"/><path d="M727.7 679.4 L743.3 682.8 Q756.6 685.7 745.1 695 L731.7 706 L749 712 Q763.8 717.2 752.7 725.2 L739.6 734.6 L756.9 740.6 Q771.7 745.6 760.6 754.2 L747.5 764.2 L764 771.5" fill="none" stroke="#1c3464" stroke-width="2.9" stroke-linecap="butt" stroke-linejoin="round" transform="translate(-0.7,-1.4)"/><path d="M729.4 679.8 L743.3 682.8 Q750.6 684.4 750.4 687.9M733.6 706.7 L749 712 Q757.1 714.9 757.4 718.6M741.5 735.3 L756.9 740.6 Q765 743.3 765.3 747.2M748.5 764.6 L762.7 770.9" fill="none" stroke="#4170c6" stroke-width="8.1" stroke-linecap="round" stroke-linejoin="round"/><path d="M729.4 679.8 L743.3 682.8 Q750.6 684.4 750.4 687.9M733.6 706.7 L749 712 Q757.1 714.9 757.4 718.6M741.5 735.3 L756.9 740.6 Q765 743.3 765.3 747.2M748.5 764.6 L762.7 770.9" fill="none" stroke="#6e9ae4" stroke-width="3.3" stroke-linecap="round" stroke-linejoin="round" opacity=".7" transform="translate(-0.6,-0.3)"/><path d="M801.7 733 L801.1 717.2 Q800.6 703.7 812.4 711.5 L826.3 720.8 L827.2 702.8 Q828 687.5 838.1 695.1 L850 704.1 L850.6 686.1 Q851.1 670.8 862.8 678.4 L876.6 687.3 L877.6 663.7" fill="none" stroke="#0f1e40" stroke-width="9.6" stroke-linecap="butt" stroke-linejoin="round"/><path d="M801.7 733 L801.1 717.2 Q800.6 703.7 812.4 711.5 L826.3 720.8 L827.2 702.8 Q828 687.5 838.1 695.1 L850 704.1 L850.6 686.1 Q851.1 670.8 862.8 678.4 L876.6 687.3 L877.6 663.7" fill="none" stroke="#1c3464" stroke-width="2.9" stroke-linecap="butt" stroke-linejoin="round" transform="translate(-0.7,-1.4)"/><path d="M801.6 731.2 L801.1 717.2 Q800.8 709.7 804.3 708.8M826.4 718.8 L827.2 702.8 Q827.6 694.4 830.9 692.9M850.1 702.1 L850.6 686.1 Q850.9 677.7 854.5 676.2M876.7 685.9 L877.5 665.6" fill="none" stroke="#4170c6" stroke-width="8.1" stroke-linecap="round" stroke-linejoin="round"/><path d="M801.6 731.2 L801.1 717.2 Q800.8 709.7 804.3 708.8M826.4 718.8 L827.2 702.8 Q827.6 694.4 830.9 692.9M850.1 702.1 L850.6 686.1 Q850.9 677.7 854.5 676.2M876.7 685.9 L877.5 665.6" fill="none" stroke="#6e9ae4" stroke-width="3.3" stroke-linecap="round" stroke-linejoin="round" opacity=".7" transform="translate(-0.6,-0.3)"/><path d="M834 757 L836.2 747 Q838.1 738.6 848.1 745.8 L859.8 754.4 L861.9 736.3 Q863.8 720.9 873.8 729.1 L885.5 738.6 L885.5 720 Q885.4 704.1 897.2 711.8 L911.1 720.8 L913.1 699.1" fill="none" stroke="#0f1e40" stroke-width="9.6" stroke-linecap="butt" stroke-linejoin="round"/><path d="M834 757 L836.2 747 Q838.1 738.6 848.1 745.8 L859.8 754.4 L861.9 736.3 Q863.8 720.9 873.8 729.1 L885.5 738.6 L885.5 720 Q885.4 704.1 897.2 711.8 L911.1 720.8 L913.1 699.1" fill="none" stroke="#1c3464" stroke-width="2.9" stroke-linecap="butt" stroke-linejoin="round" transform="translate(-0.7,-1.4)"/><path d="M834.2 755.9 L836.2 747 Q837.2 742.4 840.7 742.5M860 752.4 L861.9 736.3 Q862.9 727.8 866.4 726.5M885.5 736.5 L885.5 720 Q885.5 711.3 889 709.6M911.2 719.5 L912.9 700.8" fill="none" stroke="#4170c6" stroke-width="8.1" stroke-linecap="round" stroke-linejoin="round"/><path d="M834.2 755.9 L836.2 747 Q837.2 742.4 840.7 742.5M860 752.4 L861.9 736.3 Q862.9 727.8 866.4 726.5M885.5 736.5 L885.5 720 Q885.5 711.3 889 709.6M911.2 719.5 L912.9 700.8" fill="none" stroke="#6e9ae4" stroke-width="3.3" stroke-linecap="round" stroke-linejoin="round" opacity=".7" transform="translate(-0.6,-0.3)"/><path d="M920 666.6 L936.7 668.7 Q950.9 670.4 939.9 680.4 L926.9 692.2 L946 696.9 Q962.2 700.9 951.5 709.4 L939 719.5 L956.7 723 Q971.8 726 962.1 735.9 L950.8 747.5 L968 754.5" fill="none" stroke="#0f1e40" stroke-width="9.6" stroke-linecap="butt" stroke-linejoin="round"/><path d="M920 666.6 L936.7 668.7 Q950.9 670.4 939.9 680.4 L926.9 692.2 L946 696.9 Q962.2 700.9 951.5 709.4 L939 719.5 L956.7 723 Q971.8 726 962.1 735.9 L950.8 747.5 L968 754.5" fill="none" stroke="#1c3464" stroke-width="2.9" stroke-linecap="butt" stroke-linejoin="round" transform="translate(-0.7,-1.4)"/><path d="M921.9 666.8 L936.7 668.7 Q944.5 669.6 944.7 673.1M929 692.7 L946 696.9 Q954.9 699.1 955.7 702.6M941 719.9 L956.7 723 Q965 724.6 965.8 728.4M951.8 747.9 L966.6 753.9" fill="none" stroke="#4170c6" stroke-width="8.1" stroke-linecap="round" stroke-linejoin="round"/><path d="M921.9 666.8 L936.7 668.7 Q944.5 669.6 944.7 673.1M929 692.7 L946 696.9 Q954.9 699.1 955.7 702.6M941 719.9 L956.7 723 Q965 724.6 965.8 728.4M951.8 747.9 L966.6 753.9" fill="none" stroke="#6e9ae4" stroke-width="3.3" stroke-linecap="round" stroke-linejoin="round" opacity=".7" transform="translate(-0.6,-0.3)"/><path d="M828 800.5 L848 819.4 L850.5 800.1 Q852.5 783.7 864.1 795.6 L877.6 809.6 L879.5 792.1 Q881.1 777.1 892.2 789.3 L905.2 803.7 L907.1 788 Q908.7 774.7 919.8 782.6 L932.8 791.8" fill="none" stroke="#0f1e40" stroke-width="9.6" stroke-linecap="butt" stroke-linejoin="round"/><path d="M828 800.5 L848 819.4 L850.5 800.1 Q852.5 783.7 864.1 795.6 L877.6 809.6 L879.5 792.1 Q881.1 777.1 892.2 789.3 L905.2 803.7 L907.1 788 Q908.7 774.7 919.8 782.6 L932.8 791.8" fill="none" stroke="#1c3464" stroke-width="2.9" stroke-linecap="butt" stroke-linejoin="round" transform="translate(-0.7,-1.4)"/><path d="M848.3 817.3 L850.5 800.1 Q851.6 791.1 855.6 790.6M877.8 807.7 L879.5 792.1 Q880.4 783.8 884.2 783.8M905.4 802 L907.1 788 Q908 780.7 911.8 779.8" fill="none" stroke="#4170c6" stroke-width="8.1" stroke-linecap="round" stroke-linejoin="round"/><path d="M848.3 817.3 L850.5 800.1 Q851.6 791.1 855.6 790.6M877.8 807.7 L879.5 792.1 Q880.4 783.8 884.2 783.8M905.4 802 L907.1 788 Q908 780.7 911.8 779.8" fill="none" stroke="#6e9ae4" stroke-width="3.3" stroke-linecap="round" stroke-linejoin="round" opacity=".7" transform="translate(-0.6,-0.3)"/><path d="M997.2 728.5 L995.7 719.7 Q994.4 712.1 1008.4 715.7 L1024.8 719.9 L1019.2 703 Q1014.3 688.6 1027.8 692.6 L1043.5 697.2 L1038.4 680.9 Q1034 667.1 1047.9 670.9 L1064.2 675.5 L1062.2 652.8" fill="none" stroke="#0f1e40" stroke-width="9.6" stroke-linecap="butt" stroke-linejoin="round"/><path d="M997.2 728.5 L995.7 719.7 Q994.4 712.1 1008.4 715.7 L1024.8 719.9 L1019.2 703 Q1014.3 688.6 1027.8 692.6 L1043.5 697.2 L1038.4 680.9 Q1034 667.1 1047.9 670.9 L1064.2 675.5 L1062.2 652.8" fill="none" stroke="#1c3464" stroke-width="2.9" stroke-linecap="butt" stroke-linejoin="round" transform="translate(-0.7,-1.4)"/><path d="M997 727.5 L995.7 719.7 Q995 715.5 998.9 714.7M1024.2 718 L1019.2 703 Q1016.5 695.1 1019.4 692.7M1042.9 695.4 L1038.4 680.9 Q1036 673.3 1039.1 671M1064.1 674.1 L1062.4 654.6" fill="none" stroke="#4170c6" stroke-width="8.1" stroke-linecap="round" stroke-linejoin="round"/><path d="M997 727.5 L995.7 719.7 Q995 715.5 998.9 714.7M1024.2 718 L1019.2 703 Q1016.5 695.1 1019.4 692.7M1042.9 695.4 L1038.4 680.9 Q1036 673.3 1039.1 671M1064.1 674.1 L1062.4 654.6" fill="none" stroke="#6e9ae4" stroke-width="3.3" stroke-linecap="round" stroke-linejoin="round" opacity=".7" transform="translate(-0.6,-0.3)"/><path d="M1128 672.5 L1119.8 668.5 Q1112.9 665 1116.4 679.8 L1120.4 697.2 L1103 688.9 Q1088.1 681.8 1092.1 696.6 L1096.7 713.9 L1078.1 704.9 Q1062.2 697.2 1066.3 713.1 L1071.1 731.7 L1047.5 722.8" fill="none" stroke="#0f1e40" stroke-width="9.6" stroke-linecap="butt" stroke-linejoin="round"/><path d="M1128 672.5 L1119.8 668.5 Q1112.9 665 1116.4 679.8 L1120.4 697.2 L1103 688.9 Q1088.1 681.8 1092.1 696.6 L1096.7 713.9 L1078.1 704.9 Q1062.2 697.2 1066.3 713.1 L1071.1 731.7 L1047.5 722.8" fill="none" stroke="#1c3464" stroke-width="2.9" stroke-linecap="butt" stroke-linejoin="round" transform="translate(-0.7,-1.4)"/><path d="M1120 695.3 L1116.4 679.8 Q1114.5 671.7 1115.7 669.1M1096.2 712 L1092.1 696.6 Q1089.9 688.5 1093.4 687M1070.6 729.6 L1066.3 713.1 Q1064.1 704.4 1067.8 702.7" fill="none" stroke="#4170c6" stroke-width="8.1" stroke-linecap="round" stroke-linejoin="round"/><path d="M1120 695.3 L1116.4 679.8 Q1114.5 671.7 1115.7 669.1M1096.2 712 L1092.1 696.6 Q1089.9 688.5 1093.4 687M1070.6 729.6 L1066.3 713.1 Q1064.1 704.4 1067.8 702.7" fill="none" stroke="#6e9ae4" stroke-width="3.3" stroke-linecap="round" stroke-linejoin="round" opacity=".7" transform="translate(-0.6,-0.3)"/><path d="M1146 714 L1144.1 729.7 L1128.5 723.3 Q1115.3 717.8 1118.5 732.3 L1122.4 749.4 L1108 743 Q1095.7 737.6 1099.3 751.7 L1103.6 768.2 L1087.5 763.1 Q1073.7 758.8 1077.1 772.2 L1081 787.9" fill="none" stroke="#0f1e40" stroke-width="9.6" stroke-linecap="butt" stroke-linejoin="round"/><path d="M1146 714 L1144.1 729.7 L1128.5 723.3 Q1115.3 717.8 1118.5 732.3 L1122.4 749.4 L1108 743 Q1095.7 737.6 1099.3 751.7 L1103.6 768.2 L1087.5 763.1 Q1073.7 758.8 1077.1 772.2 L1081 787.9" fill="none" stroke="#1c3464" stroke-width="2.9" stroke-linecap="butt" stroke-linejoin="round" transform="translate(-0.7,-1.4)"/><path d="M1145.9 714.9 L1144.3 728.4M1122 747.5 L1118.5 732.3 Q1116.7 724.3 1119.9 722.4M1103.1 766.4 L1099.3 751.7 Q1097.4 744 1100.2 742.1M1080.6 786.2 L1077.1 772.2 Q1075.2 764.8 1078.6 762.8" fill="none" stroke="#4170c6" stroke-width="8.1" stroke-linecap="round" stroke-linejoin="round"/><path d="M1145.9 714.9 L1144.3 728.4M1122 747.5 L1118.5 732.3 Q1116.7 724.3 1119.9 722.4M1103.1 766.4 L1099.3 751.7 Q1097.4 744 1100.2 742.1M1080.6 786.2 L1077.1 772.2 Q1075.2 764.8 1078.6 762.8" fill="none" stroke="#6e9ae4" stroke-width="3.3" stroke-linecap="round" stroke-linejoin="round" opacity=".7" transform="translate(-0.6,-0.3)"/><path d="M1166.7 744 L1172.6 761.3 L1155.8 760.5 Q1141.5 759.9 1149.1 772.6 L1157.9 787.5 L1141.2 785 Q1127 782.8 1133.5 796.9 L1141.1 813.5 L1123.9 812.4 Q1109.2 811.4 1115.7 822.8 L1123.4 836.2" fill="none" stroke="#0f1e40" stroke-width="9.6" stroke-linecap="butt" stroke-linejoin="round"/><path d="M1166.7 744 L1172.6 761.3 L1155.8 760.5 Q1141.5 759.9 1149.1 772.6 L1157.9 787.5 L1141.2 785 Q1127 782.8 1133.5 796.9 L1141.1 813.5 L1123.9 812.4 Q1109.2 811.4 1115.7 822.8 L1123.4 836.2" fill="none" stroke="#1c3464" stroke-width="2.9" stroke-linecap="butt" stroke-linejoin="round" transform="translate(-0.7,-1.4)"/><path d="M1167.1 745 L1172.1 759.9M1156.9 785.8 L1149.1 772.6 Q1144.9 765.6 1147.4 762.6M1140.3 811.7 L1133.5 796.9 Q1129.9 789.2 1132.6 786.3M1122.5 834.7 L1115.7 822.8 Q1112.1 816.5 1115 814" fill="none" stroke="#4170c6" stroke-width="8.1" stroke-linecap="round" stroke-linejoin="round"/><path d="M1167.1 745 L1172.1 759.9M1156.9 785.8 L1149.1 772.6 Q1144.9 765.6 1147.4 762.6M1140.3 811.7 L1133.5 796.9 Q1129.9 789.2 1132.6 786.3M1122.5 834.7 L1115.7 822.8 Q1112.1 816.5 1115 814" fill="none" stroke="#6e9ae4" stroke-width="3.3" stroke-linecap="round" stroke-linejoin="round" opacity=".7" transform="translate(-0.6,-0.3)"/><path d="M881 849 L897.3 855.9 L896.6 837.2 Q895.9 821.3 908.8 829.5 L923.9 839.1 L924 822.7 Q924 808.8 935.6 817.8 L949.3 828.3 L949.4 809.6 Q949.5 793.7 960.5 801.9 L973.5 811.5" fill="none" stroke="#0f1e40" stroke-width="9.6" stroke-linecap="butt" stroke-linejoin="round"/><path d="M881 849 L897.3 855.9 L896.6 837.2 Q895.9 821.3 908.8 829.5 L923.9 839.1 L924 822.7 Q924 808.8 935.6 817.8 L949.3 828.3 L949.4 809.6 Q949.5 793.7 960.5 801.9 L973.5 811.5" fill="none" stroke="#1c3464" stroke-width="2.9" stroke-linecap="butt" stroke-linejoin="round" transform="translate(-0.7,-1.4)"/><path d="M897.2 853.8 L896.6 837.2 Q896.2 828.4 899.9 827M923.9 837.3 L924 822.7 Q924 815 927.5 814.3M949.3 826.2 L949.4 809.6 Q949.4 800.8 952.8 799.4" fill="none" stroke="#4170c6" stroke-width="8.1" stroke-linecap="round" stroke-linejoin="round"/><path d="M897.2 853.8 L896.6 837.2 Q896.2 828.4 899.9 827M923.9 837.3 L924 822.7 Q924 815 927.5 814.3M949.3 826.2 L949.4 809.6 Q949.4 800.8 952.8 799.4" fill="none" stroke="#6e9ae4" stroke-width="3.3" stroke-linecap="round" stroke-linejoin="round" opacity=".7" transform="translate(-0.6,-0.3)"/><path d="M913.1 864.8 L923.9 879.6 L930.5 868.4 Q936.1 858.8 944.1 869.2 L953.5 881.5 L961.1 869.4 Q967.5 859.1 974.4 871.7 L982.4 886.5 L990.6 873.5 Q997.6 862.5 1002.9 872.4 L1009 884" fill="none" stroke="#0f1e40" stroke-width="9.6" stroke-linecap="butt" stroke-linejoin="round"/><path d="M913.1 864.8 L923.9 879.6 L930.5 868.4 Q936.1 858.8 944.1 869.2 L953.5 881.5 L961.1 869.4 Q967.5 859.1 974.4 871.7 L982.4 886.5 L990.6 873.5 Q997.6 862.5 1002.9 872.4 L1009 884" fill="none" stroke="#1c3464" stroke-width="2.9" stroke-linecap="butt" stroke-linejoin="round" transform="translate(-0.7,-1.4)"/><path d="M913.7 865.7 L923 878.4M952.5 880.1 L944.1 869.2 Q939.7 863.5 936 863.8M981.5 884.9 L974.4 871.7 Q970.6 864.7 966.9 864.7M1008.3 882.7 L1002.9 872.4 Q1000 866.9 996.6 867.8" fill="none" stroke="#4170c6" stroke-width="8.1" stroke-linecap="round" stroke-linejoin="round"/><path d="M913.7 865.7 L923 878.4M952.5 880.1 L944.1 869.2 Q939.7 863.5 936 863.8M981.5 884.9 L974.4 871.7 Q970.6 864.7 966.9 864.7M1008.3 882.7 L1002.9 872.4 Q1000 866.9 996.6 867.8" fill="none" stroke="#6e9ae4" stroke-width="3.3" stroke-linecap="round" stroke-linejoin="round" opacity=".7" transform="translate(-0.6,-0.3)"/><path d="M824 875 L816.5 887.5 L806.9 875.2 Q798.8 864.7 794.2 878.3 L788.9 894.4 L778.7 882.7 Q770.1 872.7 765.6 886.3 L760.3 902.2 L749.3 890.2 Q740 879.9 736.6 892 L732.7 906.2" fill="none" stroke="#0f1e40" stroke-width="9.6" stroke-linecap="butt" stroke-linejoin="round"/><path d="M824 875 L816.5 887.5 L806.9 875.2 Q798.8 864.7 794.2 878.3 L788.9 894.4 L778.7 882.7 Q770.1 872.7 765.6 886.3 L760.3 902.2 L749.3 890.2 Q740 879.9 736.6 892 L732.7 906.2" fill="none" stroke="#1c3464" stroke-width="2.9" stroke-linecap="butt" stroke-linejoin="round" transform="translate(-0.7,-1.4)"/><path d="M823.5 875.8 L817.1 886.5M789.5 892.6 L794.2 878.3 Q796.8 870.8 800.3 870.6M760.9 900.4 L765.6 886.3 Q768 878.8 771.8 878.5M733.1 904.6 L736.6 892 Q738.5 885.4 742.1 885.5" fill="none" stroke="#4170c6" stroke-width="8.1" stroke-linecap="round" stroke-linejoin="round"/><path d="M823.5 875.8 L817.1 886.5M789.5 892.6 L794.2 878.3 Q796.8 870.8 800.3 870.6M760.9 900.4 L765.6 886.3 Q768 878.8 771.8 878.5M733.1 904.6 L736.6 892 Q738.5 885.4 742.1 885.5" fill="none" stroke="#6e9ae4" stroke-width="3.3" stroke-linecap="round" stroke-linejoin="round" opacity=".7" transform="translate(-0.6,-0.3)"/><path d="M841 906 L838.2 918 L827.9 905.7 Q819.2 895.3 815.2 908.9 L810.6 924.9 L800.5 913.2 Q791.9 903.2 786.9 916.8 L781 932.8 L770.7 920.8 Q762 910.5 758 922.2 L753.4 935.8" fill="none" stroke="#0f1e40" stroke-width="9.6" stroke-linecap="butt" stroke-linejoin="round"/><path d="M841 906 L838.2 918 L827.9 905.7 Q819.2 895.3 815.2 908.9 L810.6 924.9 L800.5 913.2 Q791.9 903.2 786.9 916.8 L781 932.8 L770.7 920.8 Q762 910.5 758 922.2 L753.4 935.8" fill="none" stroke="#1c3464" stroke-width="2.9" stroke-linecap="butt" stroke-linejoin="round" transform="translate(-0.7,-1.4)"/><path d="M840.8 906.7 L838.4 917M811.1 923.1 L815.2 908.9 Q817.4 901.4 821 901.2M781.7 931 L786.9 916.8 Q789.6 909.3 793.5 909M753.9 934.3 L758 922.2 Q760.2 915.8 763.8 916" fill="none" stroke="#4170c6" stroke-width="8.1" stroke-linecap="round" stroke-linejoin="round"/><path d="M840.8 906.7 L838.4 917M811.1 923.1 L815.2 908.9 Q817.4 901.4 821 901.2M781.7 931 L786.9 916.8 Q789.6 909.3 793.5 909M753.9 934.3 L758 922.2 Q760.2 915.8 763.8 916" fill="none" stroke="#6e9ae4" stroke-width="3.3" stroke-linecap="round" stroke-linejoin="round" opacity=".7" transform="translate(-0.6,-0.3)"/><path d="M895 901 L904.4 893.8 Q912.5 887.6 915 900.7 L918 916 L931.3 905.1 Q942.7 895.8 945.3 909.4 L948.3 925.4 L960.8 912.7 Q971.5 902 974.7 916.1 L978.4 932.8 L997.2 920" fill="none" stroke="#0f1e40" stroke-width="9.6" stroke-linecap="butt" stroke-linejoin="round"/><path d="M895 901 L904.4 893.8 Q912.5 887.6 915 900.7 L918 916 L931.3 905.1 Q942.7 895.8 945.3 909.4 L948.3 925.4 L960.8 912.7 Q971.5 902 974.7 916.1 L978.4 932.8 L997.2 920" fill="none" stroke="#1c3464" stroke-width="2.9" stroke-linecap="butt" stroke-linejoin="round" transform="translate(-0.7,-1.4)"/><path d="M896 900.2 L904.4 893.8 Q908.9 890.4 911.6 892.8M919.5 914.8 L931.3 905.1 Q937.6 900 941.2 901.8M949.7 924 L960.8 912.7 Q966.7 906.8 970.3 908.4M979.5 932 L995.7 921" fill="none" stroke="#4170c6" stroke-width="8.1" stroke-linecap="round" stroke-linejoin="round"/><path d="M896 900.2 L904.4 893.8 Q908.9 890.4 911.6 892.8M919.5 914.8 L931.3 905.1 Q937.6 900 941.2 901.8M949.7 924 L960.8 912.7 Q966.7 906.8 970.3 908.4M979.5 932 L995.7 921" fill="none" stroke="#6e9ae4" stroke-width="3.3" stroke-linecap="round" stroke-linejoin="round" opacity=".7" transform="translate(-0.6,-0.3)"/><path d="M982.4 801.7 L999.1 797.8 Q1013.3 794.4 1006.3 808.2 L998.2 824.4 L1016 821.3 Q1031.1 818.6 1025 831.2 L1017.9 846 L1035.7 842.8 Q1051 840.1 1044.3 853.3 L1036.6 868.7 L1054 870" fill="none" stroke="#0f1e40" stroke-width="9.6" stroke-linecap="butt" stroke-linejoin="round"/><path d="M982.4 801.7 L999.1 797.8 Q1013.3 794.4 1006.3 808.2 L998.2 824.4 L1016 821.3 Q1031.1 818.6 1025 831.2 L1017.9 846 L1035.7 842.8 Q1051 840.1 1044.3 853.3 L1036.6 868.7 L1054 870" fill="none" stroke="#1c3464" stroke-width="2.9" stroke-linecap="butt" stroke-linejoin="round" transform="translate(-0.7,-1.4)"/><path d="M984.3 801.3 L999.1 797.8 Q1006.9 795.9 1008.3 799.3M1000.2 824.1 L1016 821.3 Q1024.3 819.8 1026.2 822.9M1019.9 845.6 L1035.7 842.8 Q1044.1 841.4 1045.9 844.7M1037.6 868.8 L1052.6 869.9" fill="none" stroke="#4170c6" stroke-width="8.1" stroke-linecap="round" stroke-linejoin="round"/><path d="M984.3 801.3 L999.1 797.8 Q1006.9 795.9 1008.3 799.3M1000.2 824.1 L1016 821.3 Q1024.3 819.8 1026.2 822.9M1019.9 845.6 L1035.7 842.8 Q1044.1 841.4 1045.9 844.7M1037.6 868.8 L1052.6 869.9" fill="none" stroke="#6e9ae4" stroke-width="3.3" stroke-linecap="round" stroke-linejoin="round" opacity=".7" transform="translate(-0.6,-0.3)"/><path d="M1054.4 776 L1042.5 797.7 L1060.4 797 Q1075.7 796.5 1068.6 808.9 L1060.3 823.4 L1078.8 820.8 Q1094.5 818.6 1087.8 831.7 L1080 847 L1101.7 848" fill="none" stroke="#0f1e40" stroke-width="9.6" stroke-linecap="butt" stroke-linejoin="round"/><path d="M1054.4 776 L1042.5 797.7 L1060.4 797 Q1075.7 796.5 1068.6 808.9 L1060.3 823.4 L1078.8 820.8 Q1094.5 818.6 1087.8 831.7 L1080 847 L1101.7 848" fill="none" stroke="#1c3464" stroke-width="2.9" stroke-linecap="butt" stroke-linejoin="round" transform="translate(-0.7,-1.4)"/><path d="M1044.5 797.6 L1060.4 797 Q1068.8 796.7 1070.5 800.3M1062.4 823.1 L1078.8 820.8 Q1087.4 819.6 1089.3 823M1081.3 847.1 L1100 847.9" fill="none" stroke="#4170c6" stroke-width="8.1" stroke-linecap="round" stroke-linejoin="round"/><path d="M1044.5 797.6 L1060.4 797 Q1068.8 796.7 1070.5 800.3M1062.4 823.1 L1078.8 820.8 Q1087.4 819.6 1089.3 823M1081.3 847.1 L1100 847.9" fill="none" stroke="#6e9ae4" stroke-width="3.3" stroke-linecap="round" stroke-linejoin="round" opacity=".7" transform="translate(-0.6,-0.3)"/><path d="M1107 905.5 L1124.3 903.2 L1116.6 889 Q1110.1 877 1125.3 879 L1143.1 881.5 L1135.9 866.6 Q1129.7 853.9 1145.4 857.1 L1163.8 860.8 L1157.7 845.5 Q1152.5 832.4 1165 834.6 L1179.6 837.2" fill="none" stroke="#0f1e40" stroke-width="9.6" stroke-linecap="butt" stroke-linejoin="round"/><path d="M1107 905.5 L1124.3 903.2 L1116.6 889 Q1110.1 877 1125.3 879 L1143.1 881.5 L1135.9 866.6 Q1129.7 853.9 1145.4 857.1 L1163.8 860.8 L1157.7 845.5 Q1152.5 832.4 1165 834.6 L1179.6 837.2" fill="none" stroke="#1c3464" stroke-width="2.9" stroke-linecap="butt" stroke-linejoin="round" transform="translate(-0.7,-1.4)"/><path d="M1123.4 901.6 L1116.6 889 Q1113 882.4 1116 880M1142.3 879.8 L1135.9 866.6 Q1132.5 859.6 1135.7 857.5M1163.1 859.1 L1157.7 845.5 Q1154.8 838.3 1157.3 835.7" fill="none" stroke="#4170c6" stroke-width="8.1" stroke-linecap="round" stroke-linejoin="round"/><path d="M1123.4 901.6 L1116.6 889 Q1113 882.4 1116 880M1142.3 879.8 L1135.9 866.6 Q1132.5 859.6 1135.7 857.5M1163.1 859.1 L1157.7 845.5 Q1154.8 838.3 1157.3 835.7" fill="none" stroke="#6e9ae4" stroke-width="3.3" stroke-linecap="round" stroke-linejoin="round" opacity=".7" transform="translate(-0.6,-0.3)"/></g><circle cx="798.7" cy="746.1" r="15.8" fill="url(#gTi)"/><circle cx="825.9" cy="766.2" r="15.8" fill="url(#gTi)"/><circle cx="775.1" cy="782.9" r="15.8" fill="url(#gTi)"/><circle cx="816.3" cy="798.7" r="15.8" fill="url(#gTi)"/><circle cx="868.7" cy="847.6" r="15.8" fill="url(#gTi)"/><circle cx="832.2" cy="863.8" r="15.8" fill="url(#gTi)"/><circle cx="848" cy="895.9" r="15.8" fill="url(#gTi)"/><circle cx="881.9" cy="904.6" r="15.8" fill="url(#gTi)"/><circle cx="1141.1" cy="667.6" r="15.8" fill="url(#gTi)"/><circle cx="1148.6" cy="699.1" r="15.8" fill="url(#gTi)"/><circle cx="1165.8" cy="729.1" r="15.8" fill="url(#gTi)"/><circle cx="1007.4" cy="740.6" r="15.8" fill="url(#gTi)"/><circle cx="979.4" cy="762.2" r="15.8" fill="url(#gTi)"/><circle cx="1025.8" cy="764.2" r="15.8" fill="url(#gTi)"/><circle cx="1020.8" cy="888" r="15.8" fill="url(#gTi)"/><circle cx="1065.2" cy="876.6" r="15.8" fill="url(#gTi)"/><circle cx="1054.4" cy="908.2" r="15.8" fill="url(#gTi)"/><circle cx="1093.8" cy="906.2" r="15.8" fill="url(#gTi)"/><ellipse cx="1002.9" cy="747" rx="57.2" ry="44.1" fill="none" stroke="#00aeef" stroke-width="7.5"/><path d="M567.4 735.9 C592 768 625 783 666.5 791 L665.3 764.4 L710.7 811.5 L666.5 857.3 L667.8 830.1 C625 838 592 855 567.4 885.8 Z" fill="url(#gArrow)"/><text x="595.3" y="744.7" font-size="37" font-weight="bold" fill="#4472c4">PEG</text><text x="585.8" y="907.6" font-size="36.7" font-weight="bold" fill="#4472c4">Length</text>
</svg>
</body></html>
